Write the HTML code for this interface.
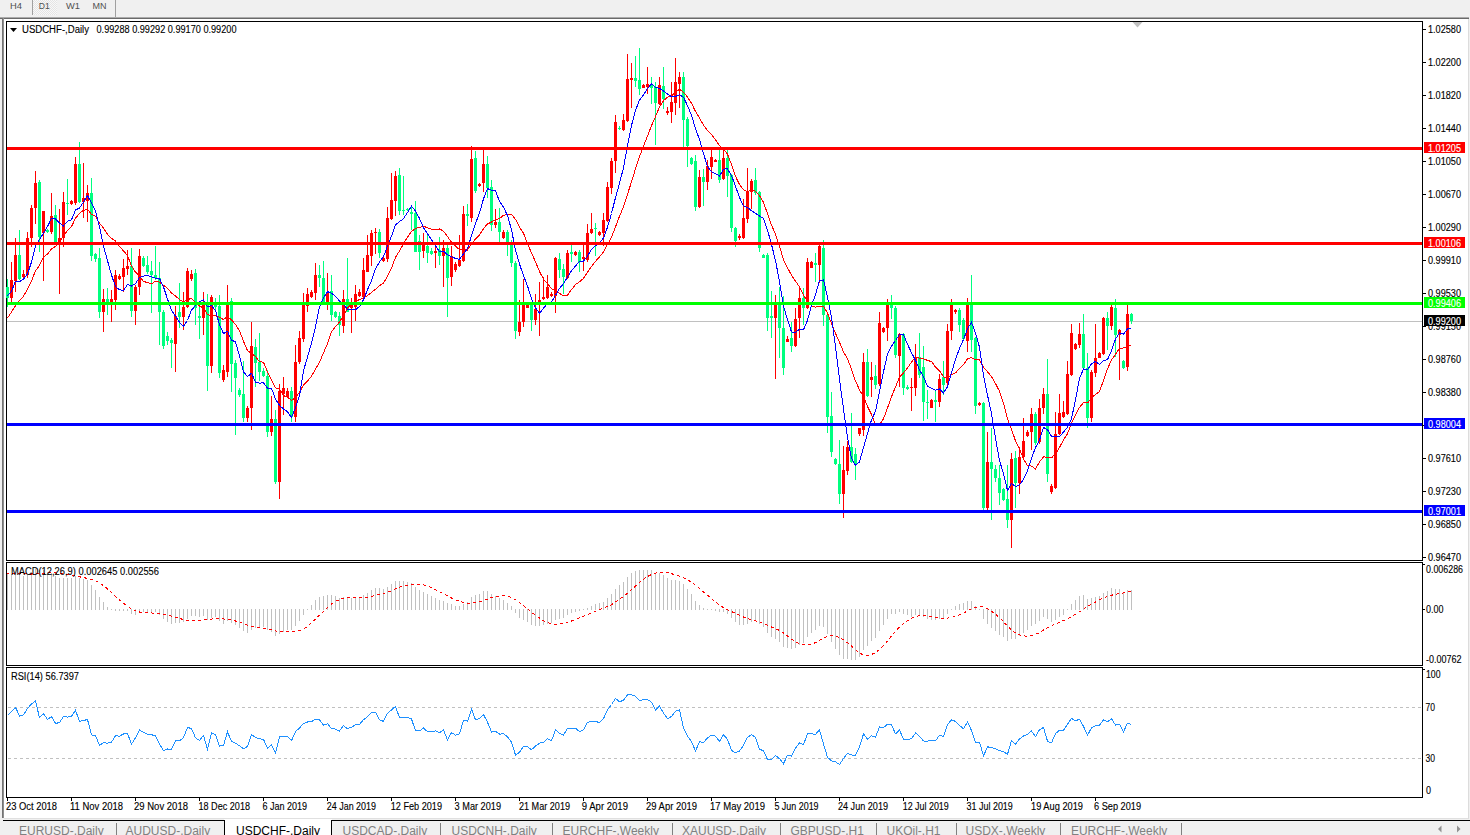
<!DOCTYPE html>
<html><head><meta charset="utf-8"><title>USDCHF-,Daily</title>
<style>html,body{margin:0;padding:0;background:#f0f0f0;overflow:hidden;font-family:"Liberation Sans",sans-serif}svg{display:block}rect{shape-rendering:crispEdges}</style>
</head><body><svg width="1470" height="835" viewBox="0 0 1470 835" font-family="&quot;Liberation Sans&quot;, sans-serif"><rect x="0" y="0" width="1470" height="835" fill="#f0f0f0"/><rect x="4" y="19" width="1464" height="800" fill="#ffffff"/><rect x="0" y="17" width="1469" height="1" fill="#ababab"/><rect x="0" y="18" width="1469" height="1" fill="#6a6a6a"/><rect x="2" y="18" width="1" height="800" fill="#737373"/><rect x="3" y="18" width="1" height="800" fill="#8f8f8f"/><rect x="1468" y="19" width="1" height="800" fill="#dcdcdc"/><rect x="32" y="0" width="1" height="15" fill="#a0a0a0"/><rect x="115" y="0" width="1" height="17" fill="#a0a0a0"/><defs><pattern id="chk" x="0" y="0" width="2" height="2" patternUnits="userSpaceOnUse"><rect x="0" y="0" width="2" height="2" fill="#f8f8f8"/><rect x="0" y="0" width="1" height="1" fill="#e4e4e4"/><rect x="1" y="1" width="1" height="1" fill="#e4e4e4"/></pattern></defs><rect x="33" y="0" width="24" height="15" fill="url(#chk)"/><rect x="6" y="21" width="1417" height="1" fill="#000"/><rect x="6" y="560" width="1417" height="1" fill="#000"/><rect x="6" y="21" width="1" height="540" fill="#000"/><rect x="1422" y="21" width="1" height="540" fill="#000"/><rect x="6" y="562" width="1417" height="1" fill="#000"/><rect x="6" y="665" width="1417" height="1" fill="#000"/><rect x="6" y="562" width="1" height="104" fill="#000"/><rect x="1422" y="562" width="1" height="104" fill="#000"/><rect x="6" y="667" width="1417" height="1" fill="#000"/><rect x="6" y="797" width="1417" height="1" fill="#000"/><rect x="6" y="667" width="1" height="131" fill="#000"/><rect x="1422" y="667" width="1" height="131" fill="#000"/><rect x="7" y="321" width="1415" height="1" fill="#c0c0c0"/><rect x="7" y="279" width="1" height="28" fill="#00ff7f"/><rect x="6" y="287" width="3" height="11" fill="#00ff7f"/><rect x="11" y="262" width="1" height="40" fill="#ff0000"/><rect x="10" y="280" width="3" height="18" fill="#ff0000"/><rect x="15" y="238" width="1" height="54" fill="#ff0000"/><rect x="14" y="255" width="3" height="26" fill="#ff0000"/><rect x="19" y="230" width="1" height="50" fill="#00ff7f"/><rect x="18" y="255" width="3" height="24" fill="#00ff7f"/><rect x="23" y="270" width="1" height="8" fill="#ff0000"/><rect x="22" y="274" width="3" height="3" fill="#ff0000"/><rect x="27" y="232" width="1" height="46" fill="#ff0000"/><rect x="26" y="238" width="3" height="37" fill="#ff0000"/><rect x="31" y="205" width="1" height="42" fill="#ff0000"/><rect x="30" y="208" width="3" height="30" fill="#ff0000"/><rect x="35" y="171" width="1" height="53" fill="#ff0000"/><rect x="34" y="183" width="3" height="25" fill="#ff0000"/><rect x="39" y="180" width="1" height="72" fill="#00ff7f"/><rect x="38" y="182" width="3" height="55" fill="#00ff7f"/><rect x="43" y="211" width="1" height="70" fill="#ff0000"/><rect x="42" y="211" width="3" height="22" fill="#ff0000"/><rect x="47" y="229" width="1" height="4" fill="#00ff7f"/><rect x="46" y="230" width="3" height="2" fill="#00ff7f"/><rect x="51" y="193" width="1" height="41" fill="#ff0000"/><rect x="50" y="216" width="3" height="16" fill="#ff0000"/><rect x="55" y="205" width="1" height="37" fill="#00ff7f"/><rect x="54" y="215" width="3" height="27" fill="#00ff7f"/><rect x="59" y="209" width="1" height="85" fill="#ff0000"/><rect x="58" y="238" width="3" height="4" fill="#ff0000"/><rect x="63" y="192" width="1" height="55" fill="#ff0000"/><rect x="62" y="202" width="3" height="36" fill="#ff0000"/><rect x="67" y="179" width="1" height="36" fill="#00ff7f"/><rect x="66" y="203" width="3" height="1" fill="#00ff7f"/><rect x="71" y="200" width="1" height="5" fill="#ff0000"/><rect x="70" y="201" width="3" height="3" fill="#ff0000"/><rect x="75" y="157" width="1" height="48" fill="#ff0000"/><rect x="74" y="164" width="3" height="39" fill="#ff0000"/><rect x="79" y="142" width="1" height="61" fill="#00ff7f"/><rect x="78" y="164" width="3" height="38" fill="#00ff7f"/><rect x="83" y="163" width="1" height="55" fill="#ff0000"/><rect x="82" y="198" width="3" height="4" fill="#ff0000"/><rect x="87" y="185" width="1" height="37" fill="#ff0000"/><rect x="86" y="193" width="3" height="8" fill="#ff0000"/><rect x="91" y="178" width="1" height="83" fill="#00ff7f"/><rect x="90" y="193" width="3" height="63" fill="#00ff7f"/><rect x="95" y="253" width="1" height="9" fill="#00ff7f"/><rect x="94" y="254" width="3" height="5" fill="#00ff7f"/><rect x="99" y="248" width="1" height="70" fill="#00ff7f"/><rect x="98" y="258" width="3" height="54" fill="#00ff7f"/><rect x="103" y="289" width="1" height="43" fill="#ff0000"/><rect x="102" y="299" width="3" height="13" fill="#ff0000"/><rect x="107" y="288" width="1" height="27" fill="#00ff7f"/><rect x="106" y="299" width="3" height="5" fill="#00ff7f"/><rect x="111" y="290" width="1" height="32" fill="#ff0000"/><rect x="110" y="299" width="3" height="3" fill="#ff0000"/><rect x="115" y="270" width="1" height="40" fill="#ff0000"/><rect x="114" y="275" width="3" height="25" fill="#ff0000"/><rect x="119" y="274" width="1" height="6" fill="#ff0000"/><rect x="118" y="276" width="3" height="3" fill="#ff0000"/><rect x="123" y="259" width="1" height="33" fill="#ff0000"/><rect x="122" y="268" width="3" height="9" fill="#ff0000"/><rect x="127" y="250" width="1" height="25" fill="#ff0000"/><rect x="126" y="266" width="3" height="3" fill="#ff0000"/><rect x="131" y="248" width="1" height="69" fill="#00ff7f"/><rect x="130" y="266" width="3" height="45" fill="#00ff7f"/><rect x="135" y="285" width="1" height="40" fill="#ff0000"/><rect x="134" y="287" width="3" height="24" fill="#ff0000"/><rect x="139" y="249" width="1" height="46" fill="#ff0000"/><rect x="138" y="256" width="3" height="31" fill="#ff0000"/><rect x="143" y="256" width="1" height="11" fill="#00ff7f"/><rect x="142" y="258" width="3" height="8" fill="#00ff7f"/><rect x="147" y="256" width="1" height="18" fill="#00ff7f"/><rect x="146" y="265" width="3" height="7" fill="#00ff7f"/><rect x="151" y="261" width="1" height="52" fill="#00ff7f"/><rect x="150" y="271" width="3" height="4" fill="#00ff7f"/><rect x="155" y="246" width="1" height="34" fill="#00ff7f"/><rect x="154" y="275" width="3" height="3" fill="#00ff7f"/><rect x="159" y="262" width="1" height="83" fill="#00ff7f"/><rect x="158" y="278" width="3" height="34" fill="#00ff7f"/><rect x="163" y="310" width="1" height="39" fill="#00ff7f"/><rect x="162" y="312" width="3" height="34" fill="#00ff7f"/><rect x="167" y="332" width="1" height="13" fill="#00ff7f"/><rect x="166" y="336" width="3" height="5" fill="#00ff7f"/><rect x="171" y="338" width="1" height="30" fill="#00ff7f"/><rect x="170" y="340" width="3" height="3" fill="#00ff7f"/><rect x="175" y="306" width="1" height="66" fill="#ff0000"/><rect x="174" y="316" width="3" height="28" fill="#ff0000"/><rect x="179" y="283" width="1" height="45" fill="#00ff7f"/><rect x="178" y="312" width="3" height="5" fill="#00ff7f"/><rect x="183" y="292" width="1" height="38" fill="#ff0000"/><rect x="182" y="307" width="3" height="10" fill="#ff0000"/><rect x="187" y="268" width="1" height="40" fill="#ff0000"/><rect x="186" y="271" width="3" height="36" fill="#ff0000"/><rect x="191" y="270" width="1" height="11" fill="#ff0000"/><rect x="190" y="274" width="3" height="5" fill="#ff0000"/><rect x="195" y="269" width="1" height="56" fill="#00ff7f"/><rect x="194" y="273" width="3" height="35" fill="#00ff7f"/><rect x="199" y="301" width="1" height="38" fill="#00ff7f"/><rect x="198" y="316" width="3" height="2" fill="#00ff7f"/><rect x="203" y="292" width="1" height="43" fill="#ff0000"/><rect x="202" y="302" width="3" height="16" fill="#ff0000"/><rect x="207" y="294" width="1" height="97" fill="#00ff7f"/><rect x="206" y="303" width="3" height="63" fill="#00ff7f"/><rect x="211" y="295" width="1" height="78" fill="#ff0000"/><rect x="210" y="297" width="3" height="69" fill="#ff0000"/><rect x="215" y="298" width="1" height="12" fill="#00ff7f"/><rect x="214" y="302" width="3" height="5" fill="#00ff7f"/><rect x="219" y="295" width="1" height="83" fill="#00ff7f"/><rect x="218" y="306" width="3" height="67" fill="#00ff7f"/><rect x="223" y="365" width="1" height="17" fill="#ff0000"/><rect x="222" y="370" width="3" height="10" fill="#ff0000"/><rect x="227" y="285" width="1" height="92" fill="#ff0000"/><rect x="226" y="302" width="3" height="70" fill="#ff0000"/><rect x="231" y="298" width="1" height="94" fill="#00ff7f"/><rect x="230" y="301" width="3" height="63" fill="#00ff7f"/><rect x="235" y="360" width="1" height="75" fill="#00ff7f"/><rect x="234" y="363" width="3" height="15" fill="#00ff7f"/><rect x="239" y="388" width="1" height="9" fill="#00ff7f"/><rect x="238" y="390" width="3" height="5" fill="#00ff7f"/><rect x="243" y="361" width="1" height="61" fill="#00ff7f"/><rect x="242" y="394" width="3" height="24" fill="#00ff7f"/><rect x="247" y="406" width="1" height="16" fill="#ff0000"/><rect x="246" y="408" width="3" height="10" fill="#ff0000"/><rect x="251" y="322" width="1" height="108" fill="#ff0000"/><rect x="250" y="346" width="3" height="62" fill="#ff0000"/><rect x="255" y="339" width="1" height="48" fill="#00ff7f"/><rect x="254" y="347" width="3" height="16" fill="#00ff7f"/><rect x="259" y="333" width="1" height="48" fill="#00ff7f"/><rect x="258" y="362" width="3" height="10" fill="#00ff7f"/><rect x="263" y="368" width="1" height="9" fill="#00ff7f"/><rect x="262" y="371" width="3" height="5" fill="#00ff7f"/><rect x="267" y="370" width="1" height="67" fill="#00ff7f"/><rect x="266" y="376" width="3" height="56" fill="#00ff7f"/><rect x="271" y="396" width="1" height="40" fill="#ff0000"/><rect x="270" y="419" width="3" height="13" fill="#ff0000"/><rect x="275" y="410" width="1" height="74" fill="#00ff7f"/><rect x="274" y="419" width="3" height="63" fill="#00ff7f"/><rect x="279" y="384" width="1" height="115" fill="#ff0000"/><rect x="278" y="391" width="3" height="91" fill="#ff0000"/><rect x="283" y="377" width="1" height="38" fill="#ff0000"/><rect x="282" y="388" width="3" height="6" fill="#ff0000"/><rect x="287" y="388" width="1" height="10" fill="#ff0000"/><rect x="286" y="391" width="3" height="6" fill="#ff0000"/><rect x="291" y="387" width="1" height="35" fill="#00ff7f"/><rect x="290" y="391" width="3" height="26" fill="#00ff7f"/><rect x="295" y="345" width="1" height="77" fill="#ff0000"/><rect x="294" y="362" width="3" height="55" fill="#ff0000"/><rect x="299" y="331" width="1" height="33" fill="#ff0000"/><rect x="298" y="338" width="3" height="24" fill="#ff0000"/><rect x="303" y="293" width="1" height="49" fill="#ff0000"/><rect x="302" y="305" width="3" height="34" fill="#ff0000"/><rect x="307" y="288" width="1" height="24" fill="#ff0000"/><rect x="306" y="294" width="3" height="12" fill="#ff0000"/><rect x="311" y="290" width="1" height="8" fill="#ff0000"/><rect x="310" y="292" width="3" height="5" fill="#ff0000"/><rect x="315" y="263" width="1" height="37" fill="#ff0000"/><rect x="314" y="275" width="3" height="18" fill="#ff0000"/><rect x="319" y="265" width="1" height="22" fill="#00ff7f"/><rect x="318" y="275" width="3" height="3" fill="#00ff7f"/><rect x="323" y="261" width="1" height="44" fill="#00ff7f"/><rect x="322" y="278" width="3" height="24" fill="#00ff7f"/><rect x="327" y="273" width="1" height="37" fill="#ff0000"/><rect x="326" y="292" width="3" height="11" fill="#ff0000"/><rect x="331" y="275" width="1" height="46" fill="#00ff7f"/><rect x="330" y="291" width="3" height="24" fill="#00ff7f"/><rect x="335" y="311" width="1" height="7" fill="#00ff7f"/><rect x="334" y="312" width="3" height="5" fill="#00ff7f"/><rect x="339" y="312" width="1" height="24" fill="#00ff7f"/><rect x="338" y="316" width="3" height="9" fill="#00ff7f"/><rect x="343" y="290" width="1" height="43" fill="#ff0000"/><rect x="342" y="299" width="3" height="27" fill="#ff0000"/><rect x="347" y="258" width="1" height="54" fill="#00ff7f"/><rect x="346" y="299" width="3" height="13" fill="#00ff7f"/><rect x="351" y="298" width="1" height="35" fill="#ff0000"/><rect x="350" y="304" width="3" height="4" fill="#ff0000"/><rect x="355" y="285" width="1" height="36" fill="#ff0000"/><rect x="354" y="294" width="3" height="13" fill="#ff0000"/><rect x="359" y="289" width="1" height="8" fill="#ff0000"/><rect x="358" y="292" width="3" height="4" fill="#ff0000"/><rect x="363" y="258" width="1" height="40" fill="#ff0000"/><rect x="362" y="270" width="3" height="27" fill="#ff0000"/><rect x="367" y="235" width="1" height="37" fill="#ff0000"/><rect x="366" y="255" width="3" height="17" fill="#ff0000"/><rect x="371" y="230" width="1" height="36" fill="#ff0000"/><rect x="370" y="233" width="3" height="23" fill="#ff0000"/><rect x="375" y="228" width="1" height="26" fill="#ff0000"/><rect x="374" y="232" width="3" height="1" fill="#ff0000"/><rect x="379" y="229" width="1" height="29" fill="#00ff7f"/><rect x="378" y="232" width="3" height="21" fill="#00ff7f"/><rect x="383" y="256" width="1" height="6" fill="#ff0000"/><rect x="382" y="258" width="3" height="3" fill="#ff0000"/><rect x="387" y="207" width="1" height="55" fill="#ff0000"/><rect x="386" y="218" width="3" height="41" fill="#ff0000"/><rect x="391" y="173" width="1" height="47" fill="#ff0000"/><rect x="390" y="200" width="3" height="19" fill="#ff0000"/><rect x="395" y="171" width="1" height="45" fill="#ff0000"/><rect x="394" y="176" width="3" height="25" fill="#ff0000"/><rect x="399" y="168" width="1" height="47" fill="#00ff7f"/><rect x="398" y="175" width="3" height="36" fill="#00ff7f"/><rect x="403" y="176" width="1" height="39" fill="#00ff7f"/><rect x="402" y="210" width="3" height="1" fill="#00ff7f"/><rect x="407" y="208" width="1" height="3" fill="#00ff7f"/><rect x="406" y="209" width="3" height="1" fill="#00ff7f"/><rect x="411" y="207" width="1" height="23" fill="#00ff7f"/><rect x="410" y="212" width="3" height="2" fill="#00ff7f"/><rect x="415" y="201" width="1" height="51" fill="#00ff7f"/><rect x="414" y="213" width="3" height="39" fill="#00ff7f"/><rect x="419" y="235" width="1" height="35" fill="#00ff7f"/><rect x="418" y="241" width="3" height="11" fill="#00ff7f"/><rect x="423" y="233" width="1" height="25" fill="#ff0000"/><rect x="422" y="242" width="3" height="9" fill="#ff0000"/><rect x="427" y="233" width="1" height="30" fill="#00ff7f"/><rect x="426" y="246" width="3" height="7" fill="#00ff7f"/><rect x="431" y="248" width="1" height="7" fill="#00ff7f"/><rect x="430" y="251" width="3" height="3" fill="#00ff7f"/><rect x="435" y="242" width="1" height="26" fill="#ff0000"/><rect x="434" y="251" width="3" height="2" fill="#ff0000"/><rect x="439" y="237" width="1" height="28" fill="#00ff7f"/><rect x="438" y="250" width="3" height="6" fill="#00ff7f"/><rect x="443" y="240" width="1" height="47" fill="#ff0000"/><rect x="442" y="248" width="3" height="8" fill="#ff0000"/><rect x="447" y="245" width="1" height="72" fill="#00ff7f"/><rect x="446" y="248" width="3" height="30" fill="#00ff7f"/><rect x="451" y="246" width="1" height="40" fill="#ff0000"/><rect x="450" y="256" width="3" height="21" fill="#ff0000"/><rect x="455" y="262" width="1" height="10" fill="#ff0000"/><rect x="454" y="264" width="3" height="6" fill="#ff0000"/><rect x="459" y="235" width="1" height="32" fill="#ff0000"/><rect x="458" y="260" width="3" height="6" fill="#ff0000"/><rect x="463" y="206" width="1" height="56" fill="#ff0000"/><rect x="462" y="214" width="3" height="47" fill="#ff0000"/><rect x="467" y="204" width="1" height="22" fill="#00ff7f"/><rect x="466" y="214" width="3" height="2" fill="#00ff7f"/><rect x="471" y="146" width="1" height="76" fill="#ff0000"/><rect x="470" y="159" width="3" height="59" fill="#ff0000"/><rect x="475" y="151" width="1" height="42" fill="#00ff7f"/><rect x="474" y="158" width="3" height="33" fill="#00ff7f"/><rect x="479" y="183" width="1" height="4" fill="#ff0000"/><rect x="478" y="184" width="3" height="2" fill="#ff0000"/><rect x="483" y="149" width="1" height="43" fill="#ff0000"/><rect x="482" y="164" width="3" height="19" fill="#ff0000"/><rect x="487" y="156" width="1" height="42" fill="#00ff7f"/><rect x="486" y="164" width="3" height="24" fill="#00ff7f"/><rect x="491" y="180" width="1" height="51" fill="#00ff7f"/><rect x="490" y="187" width="3" height="38" fill="#00ff7f"/><rect x="495" y="209" width="1" height="19" fill="#ff0000"/><rect x="494" y="222" width="3" height="3" fill="#ff0000"/><rect x="499" y="208" width="1" height="34" fill="#00ff7f"/><rect x="498" y="222" width="3" height="10" fill="#00ff7f"/><rect x="503" y="230" width="1" height="9" fill="#ff0000"/><rect x="502" y="232" width="3" height="6" fill="#ff0000"/><rect x="507" y="230" width="1" height="26" fill="#00ff7f"/><rect x="506" y="232" width="3" height="10" fill="#00ff7f"/><rect x="511" y="240" width="1" height="27" fill="#00ff7f"/><rect x="510" y="242" width="3" height="21" fill="#00ff7f"/><rect x="515" y="261" width="1" height="78" fill="#00ff7f"/><rect x="514" y="263" width="3" height="68" fill="#00ff7f"/><rect x="519" y="300" width="1" height="36" fill="#ff0000"/><rect x="518" y="322" width="3" height="10" fill="#ff0000"/><rect x="523" y="279" width="1" height="48" fill="#ff0000"/><rect x="522" y="302" width="3" height="20" fill="#ff0000"/><rect x="527" y="303" width="1" height="5" fill="#ff0000"/><rect x="526" y="305" width="3" height="3" fill="#ff0000"/><rect x="531" y="302" width="1" height="29" fill="#00ff7f"/><rect x="530" y="305" width="3" height="15" fill="#00ff7f"/><rect x="535" y="294" width="1" height="31" fill="#ff0000"/><rect x="534" y="309" width="3" height="11" fill="#ff0000"/><rect x="539" y="282" width="1" height="54" fill="#ff0000"/><rect x="538" y="300" width="3" height="5" fill="#ff0000"/><rect x="543" y="277" width="1" height="23" fill="#ff0000"/><rect x="542" y="297" width="3" height="2" fill="#ff0000"/><rect x="547" y="275" width="1" height="24" fill="#ff0000"/><rect x="546" y="287" width="3" height="11" fill="#ff0000"/><rect x="551" y="292" width="1" height="5" fill="#ff0000"/><rect x="550" y="294" width="3" height="2" fill="#ff0000"/><rect x="555" y="257" width="1" height="56" fill="#ff0000"/><rect x="554" y="258" width="3" height="38" fill="#ff0000"/><rect x="559" y="253" width="1" height="25" fill="#00ff7f"/><rect x="558" y="259" width="3" height="11" fill="#00ff7f"/><rect x="563" y="264" width="1" height="30" fill="#00ff7f"/><rect x="562" y="269" width="3" height="8" fill="#00ff7f"/><rect x="567" y="250" width="1" height="29" fill="#ff0000"/><rect x="566" y="253" width="3" height="25" fill="#ff0000"/><rect x="571" y="245" width="1" height="17" fill="#00ff7f"/><rect x="570" y="252" width="3" height="2" fill="#00ff7f"/><rect x="575" y="251" width="1" height="5" fill="#ff0000"/><rect x="574" y="252" width="3" height="3" fill="#ff0000"/><rect x="579" y="250" width="1" height="22" fill="#00ff7f"/><rect x="578" y="252" width="3" height="10" fill="#00ff7f"/><rect x="583" y="245" width="1" height="26" fill="#ff0000"/><rect x="582" y="257" width="3" height="2" fill="#ff0000"/><rect x="587" y="224" width="1" height="38" fill="#ff0000"/><rect x="586" y="233" width="3" height="27" fill="#ff0000"/><rect x="591" y="213" width="1" height="21" fill="#ff0000"/><rect x="590" y="229" width="3" height="4" fill="#ff0000"/><rect x="595" y="223" width="1" height="33" fill="#00ff7f"/><rect x="594" y="228" width="3" height="1" fill="#00ff7f"/><rect x="599" y="231" width="1" height="5" fill="#ff0000"/><rect x="598" y="232" width="3" height="3" fill="#ff0000"/><rect x="603" y="213" width="1" height="33" fill="#ff0000"/><rect x="602" y="220" width="3" height="13" fill="#ff0000"/><rect x="607" y="182" width="1" height="40" fill="#ff0000"/><rect x="606" y="187" width="3" height="34" fill="#ff0000"/><rect x="611" y="158" width="1" height="36" fill="#ff0000"/><rect x="610" y="161" width="3" height="27" fill="#ff0000"/><rect x="615" y="115" width="1" height="58" fill="#ff0000"/><rect x="614" y="122" width="3" height="39" fill="#ff0000"/><rect x="619" y="126" width="1" height="4" fill="#00ff7f"/><rect x="618" y="128" width="3" height="1" fill="#00ff7f"/><rect x="623" y="114" width="1" height="17" fill="#ff0000"/><rect x="622" y="120" width="3" height="10" fill="#ff0000"/><rect x="627" y="54" width="1" height="68" fill="#ff0000"/><rect x="626" y="79" width="3" height="42" fill="#ff0000"/><rect x="631" y="63" width="1" height="45" fill="#ff0000"/><rect x="630" y="78" width="3" height="2" fill="#ff0000"/><rect x="635" y="56" width="1" height="31" fill="#00ff7f"/><rect x="634" y="78" width="3" height="3" fill="#00ff7f"/><rect x="639" y="48" width="1" height="47" fill="#00ff7f"/><rect x="638" y="80" width="3" height="9" fill="#00ff7f"/><rect x="643" y="84" width="1" height="4" fill="#ff0000"/><rect x="642" y="85" width="3" height="3" fill="#ff0000"/><rect x="647" y="67" width="1" height="27" fill="#ff0000"/><rect x="646" y="84" width="3" height="3" fill="#ff0000"/><rect x="651" y="77" width="1" height="27" fill="#00ff7f"/><rect x="650" y="85" width="3" height="3" fill="#00ff7f"/><rect x="655" y="82" width="1" height="63" fill="#00ff7f"/><rect x="654" y="87" width="3" height="16" fill="#00ff7f"/><rect x="659" y="77" width="1" height="28" fill="#ff0000"/><rect x="658" y="85" width="3" height="19" fill="#ff0000"/><rect x="663" y="67" width="1" height="42" fill="#00ff7f"/><rect x="662" y="86" width="3" height="13" fill="#00ff7f"/><rect x="667" y="107" width="1" height="8" fill="#ff0000"/><rect x="666" y="111" width="3" height="2" fill="#ff0000"/><rect x="671" y="82" width="1" height="41" fill="#ff0000"/><rect x="670" y="102" width="3" height="10" fill="#ff0000"/><rect x="675" y="58" width="1" height="57" fill="#ff0000"/><rect x="674" y="82" width="3" height="21" fill="#ff0000"/><rect x="679" y="72" width="1" height="36" fill="#ff0000"/><rect x="678" y="77" width="3" height="7" fill="#ff0000"/><rect x="683" y="72" width="1" height="75" fill="#00ff7f"/><rect x="682" y="77" width="3" height="43" fill="#00ff7f"/><rect x="687" y="117" width="1" height="50" fill="#00ff7f"/><rect x="686" y="119" width="3" height="27" fill="#00ff7f"/><rect x="691" y="157" width="1" height="8" fill="#00ff7f"/><rect x="690" y="158" width="3" height="6" fill="#00ff7f"/><rect x="695" y="155" width="1" height="56" fill="#00ff7f"/><rect x="694" y="161" width="3" height="46" fill="#00ff7f"/><rect x="699" y="170" width="1" height="38" fill="#ff0000"/><rect x="698" y="177" width="3" height="30" fill="#ff0000"/><rect x="703" y="169" width="1" height="37" fill="#00ff7f"/><rect x="702" y="177" width="3" height="5" fill="#00ff7f"/><rect x="707" y="160" width="1" height="30" fill="#ff0000"/><rect x="706" y="166" width="3" height="16" fill="#ff0000"/><rect x="711" y="150" width="1" height="29" fill="#ff0000"/><rect x="710" y="157" width="3" height="10" fill="#ff0000"/><rect x="715" y="159" width="1" height="3" fill="#ff0000"/><rect x="714" y="160" width="3" height="2" fill="#ff0000"/><rect x="719" y="150" width="1" height="33" fill="#00ff7f"/><rect x="718" y="160" width="3" height="20" fill="#00ff7f"/><rect x="723" y="150" width="1" height="30" fill="#ff0000"/><rect x="722" y="158" width="3" height="21" fill="#ff0000"/><rect x="727" y="150" width="1" height="47" fill="#00ff7f"/><rect x="726" y="158" width="3" height="18" fill="#00ff7f"/><rect x="731" y="174" width="1" height="58" fill="#00ff7f"/><rect x="730" y="175" width="3" height="53" fill="#00ff7f"/><rect x="735" y="227" width="1" height="20" fill="#00ff7f"/><rect x="734" y="228" width="3" height="13" fill="#00ff7f"/><rect x="739" y="234" width="1" height="6" fill="#ff0000"/><rect x="738" y="236" width="3" height="2" fill="#ff0000"/><rect x="743" y="199" width="1" height="40" fill="#ff0000"/><rect x="742" y="218" width="3" height="20" fill="#ff0000"/><rect x="747" y="168" width="1" height="55" fill="#ff0000"/><rect x="746" y="192" width="3" height="27" fill="#ff0000"/><rect x="751" y="179" width="1" height="30" fill="#ff0000"/><rect x="750" y="181" width="3" height="11" fill="#ff0000"/><rect x="755" y="168" width="1" height="27" fill="#00ff7f"/><rect x="754" y="180" width="3" height="13" fill="#00ff7f"/><rect x="759" y="191" width="1" height="61" fill="#00ff7f"/><rect x="758" y="192" width="3" height="56" fill="#00ff7f"/><rect x="763" y="254" width="1" height="4" fill="#00ff7f"/><rect x="762" y="255" width="3" height="3" fill="#00ff7f"/><rect x="767" y="253" width="1" height="78" fill="#00ff7f"/><rect x="766" y="255" width="3" height="63" fill="#00ff7f"/><rect x="771" y="291" width="1" height="47" fill="#00ff7f"/><rect x="770" y="316" width="3" height="2" fill="#00ff7f"/><rect x="775" y="295" width="1" height="84" fill="#ff0000"/><rect x="774" y="305" width="3" height="13" fill="#ff0000"/><rect x="779" y="287" width="1" height="71" fill="#00ff7f"/><rect x="778" y="305" width="3" height="23" fill="#00ff7f"/><rect x="783" y="296" width="1" height="79" fill="#00ff7f"/><rect x="782" y="328" width="3" height="40" fill="#00ff7f"/><rect x="787" y="336" width="1" height="6" fill="#ff0000"/><rect x="786" y="339" width="3" height="3" fill="#ff0000"/><rect x="791" y="322" width="1" height="30" fill="#00ff7f"/><rect x="790" y="338" width="3" height="8" fill="#00ff7f"/><rect x="795" y="308" width="1" height="39" fill="#ff0000"/><rect x="794" y="319" width="3" height="27" fill="#ff0000"/><rect x="799" y="288" width="1" height="50" fill="#ff0000"/><rect x="798" y="298" width="3" height="20" fill="#ff0000"/><rect x="803" y="288" width="1" height="37" fill="#00ff7f"/><rect x="802" y="298" width="3" height="10" fill="#00ff7f"/><rect x="807" y="258" width="1" height="51" fill="#ff0000"/><rect x="806" y="262" width="3" height="46" fill="#ff0000"/><rect x="811" y="261" width="1" height="7" fill="#ff0000"/><rect x="810" y="262" width="3" height="6" fill="#ff0000"/><rect x="815" y="253" width="1" height="29" fill="#00ff7f"/><rect x="814" y="263" width="3" height="2" fill="#00ff7f"/><rect x="819" y="245" width="1" height="38" fill="#ff0000"/><rect x="818" y="246" width="3" height="19" fill="#ff0000"/><rect x="823" y="240" width="1" height="86" fill="#00ff7f"/><rect x="822" y="248" width="3" height="67" fill="#00ff7f"/><rect x="827" y="313" width="1" height="120" fill="#00ff7f"/><rect x="826" y="315" width="3" height="102" fill="#00ff7f"/><rect x="831" y="392" width="1" height="65" fill="#00ff7f"/><rect x="830" y="416" width="3" height="36" fill="#00ff7f"/><rect x="835" y="458" width="1" height="7" fill="#00ff7f"/><rect x="834" y="459" width="3" height="5" fill="#00ff7f"/><rect x="839" y="440" width="1" height="64" fill="#00ff7f"/><rect x="838" y="464" width="3" height="30" fill="#00ff7f"/><rect x="843" y="446" width="1" height="72" fill="#ff0000"/><rect x="842" y="470" width="3" height="24" fill="#ff0000"/><rect x="847" y="441" width="1" height="34" fill="#ff0000"/><rect x="846" y="447" width="3" height="24" fill="#ff0000"/><rect x="851" y="413" width="1" height="50" fill="#00ff7f"/><rect x="850" y="447" width="3" height="15" fill="#00ff7f"/><rect x="855" y="448" width="1" height="32" fill="#00ff7f"/><rect x="854" y="454" width="3" height="11" fill="#00ff7f"/><rect x="859" y="428" width="1" height="8" fill="#ff0000"/><rect x="858" y="428" width="3" height="6" fill="#ff0000"/><rect x="863" y="353" width="1" height="83" fill="#ff0000"/><rect x="862" y="362" width="3" height="68" fill="#ff0000"/><rect x="867" y="349" width="1" height="48" fill="#00ff7f"/><rect x="866" y="362" width="3" height="34" fill="#00ff7f"/><rect x="871" y="362" width="1" height="35" fill="#ff0000"/><rect x="870" y="377" width="3" height="3" fill="#ff0000"/><rect x="875" y="365" width="1" height="24" fill="#00ff7f"/><rect x="874" y="376" width="3" height="9" fill="#00ff7f"/><rect x="879" y="312" width="1" height="74" fill="#ff0000"/><rect x="878" y="323" width="3" height="61" fill="#ff0000"/><rect x="883" y="327" width="1" height="6" fill="#ff0000"/><rect x="882" y="328" width="3" height="4" fill="#ff0000"/><rect x="887" y="299" width="1" height="42" fill="#ff0000"/><rect x="886" y="304" width="3" height="24" fill="#ff0000"/><rect x="891" y="295" width="1" height="24" fill="#00ff7f"/><rect x="890" y="304" width="3" height="4" fill="#00ff7f"/><rect x="895" y="306" width="1" height="52" fill="#00ff7f"/><rect x="894" y="308" width="3" height="47" fill="#00ff7f"/><rect x="899" y="333" width="1" height="54" fill="#ff0000"/><rect x="898" y="334" width="3" height="22" fill="#ff0000"/><rect x="903" y="333" width="1" height="62" fill="#00ff7f"/><rect x="902" y="334" width="3" height="54" fill="#00ff7f"/><rect x="907" y="385" width="1" height="5" fill="#00ff7f"/><rect x="906" y="387" width="3" height="2" fill="#00ff7f"/><rect x="911" y="378" width="1" height="33" fill="#ff0000"/><rect x="910" y="387" width="3" height="1" fill="#ff0000"/><rect x="915" y="344" width="1" height="52" fill="#ff0000"/><rect x="914" y="358" width="3" height="30" fill="#ff0000"/><rect x="919" y="333" width="1" height="45" fill="#00ff7f"/><rect x="918" y="357" width="3" height="18" fill="#00ff7f"/><rect x="923" y="346" width="1" height="75" fill="#00ff7f"/><rect x="922" y="367" width="3" height="35" fill="#00ff7f"/><rect x="927" y="390" width="1" height="29" fill="#00ff7f"/><rect x="926" y="402" width="3" height="1" fill="#00ff7f"/><rect x="931" y="399" width="1" height="9" fill="#ff0000"/><rect x="930" y="400" width="3" height="8" fill="#ff0000"/><rect x="935" y="391" width="1" height="31" fill="#00ff7f"/><rect x="934" y="400" width="3" height="2" fill="#00ff7f"/><rect x="939" y="374" width="1" height="33" fill="#ff0000"/><rect x="938" y="379" width="3" height="23" fill="#ff0000"/><rect x="943" y="361" width="1" height="34" fill="#00ff7f"/><rect x="942" y="377" width="3" height="8" fill="#00ff7f"/><rect x="947" y="324" width="1" height="61" fill="#ff0000"/><rect x="946" y="331" width="3" height="52" fill="#ff0000"/><rect x="951" y="299" width="1" height="41" fill="#ff0000"/><rect x="950" y="304" width="3" height="27" fill="#ff0000"/><rect x="955" y="309" width="1" height="5" fill="#ff0000"/><rect x="954" y="310" width="3" height="2" fill="#ff0000"/><rect x="959" y="308" width="1" height="24" fill="#00ff7f"/><rect x="958" y="310" width="3" height="15" fill="#00ff7f"/><rect x="963" y="318" width="1" height="22" fill="#00ff7f"/><rect x="962" y="320" width="3" height="19" fill="#00ff7f"/><rect x="967" y="298" width="1" height="54" fill="#ff0000"/><rect x="966" y="304" width="3" height="37" fill="#ff0000"/><rect x="971" y="275" width="1" height="77" fill="#00ff7f"/><rect x="970" y="304" width="3" height="36" fill="#00ff7f"/><rect x="975" y="337" width="1" height="77" fill="#00ff7f"/><rect x="974" y="338" width="3" height="68" fill="#00ff7f"/><rect x="979" y="402" width="1" height="4" fill="#ff0000"/><rect x="978" y="403" width="3" height="2" fill="#ff0000"/><rect x="983" y="402" width="1" height="108" fill="#00ff7f"/><rect x="982" y="403" width="3" height="105" fill="#00ff7f"/><rect x="987" y="432" width="1" height="78" fill="#ff0000"/><rect x="986" y="462" width="3" height="46" fill="#ff0000"/><rect x="991" y="428" width="1" height="92" fill="#00ff7f"/><rect x="990" y="462" width="3" height="7" fill="#00ff7f"/><rect x="995" y="465" width="1" height="17" fill="#00ff7f"/><rect x="994" y="469" width="3" height="9" fill="#00ff7f"/><rect x="999" y="465" width="1" height="40" fill="#00ff7f"/><rect x="998" y="478" width="3" height="15" fill="#00ff7f"/><rect x="1003" y="488" width="1" height="13" fill="#00ff7f"/><rect x="1002" y="489" width="3" height="11" fill="#00ff7f"/><rect x="1007" y="465" width="1" height="63" fill="#00ff7f"/><rect x="1006" y="499" width="3" height="21" fill="#00ff7f"/><rect x="1011" y="453" width="1" height="95" fill="#ff0000"/><rect x="1010" y="459" width="3" height="61" fill="#ff0000"/><rect x="1015" y="451" width="1" height="57" fill="#00ff7f"/><rect x="1014" y="458" width="3" height="25" fill="#00ff7f"/><rect x="1019" y="447" width="1" height="47" fill="#ff0000"/><rect x="1018" y="457" width="3" height="26" fill="#ff0000"/><rect x="1023" y="418" width="1" height="40" fill="#ff0000"/><rect x="1022" y="441" width="3" height="16" fill="#ff0000"/><rect x="1027" y="430" width="1" height="7" fill="#ff0000"/><rect x="1026" y="432" width="3" height="4" fill="#ff0000"/><rect x="1031" y="408" width="1" height="42" fill="#ff0000"/><rect x="1030" y="414" width="3" height="18" fill="#ff0000"/><rect x="1035" y="412" width="1" height="33" fill="#00ff7f"/><rect x="1034" y="414" width="3" height="29" fill="#00ff7f"/><rect x="1039" y="399" width="1" height="45" fill="#ff0000"/><rect x="1038" y="408" width="3" height="34" fill="#ff0000"/><rect x="1043" y="388" width="1" height="26" fill="#ff0000"/><rect x="1042" y="394" width="3" height="14" fill="#ff0000"/><rect x="1047" y="359" width="1" height="123" fill="#00ff7f"/><rect x="1046" y="394" width="3" height="80" fill="#00ff7f"/><rect x="1051" y="484" width="1" height="10" fill="#ff0000"/><rect x="1050" y="486" width="3" height="6" fill="#ff0000"/><rect x="1055" y="412" width="1" height="77" fill="#ff0000"/><rect x="1054" y="434" width="3" height="54" fill="#ff0000"/><rect x="1059" y="394" width="1" height="41" fill="#ff0000"/><rect x="1058" y="413" width="3" height="21" fill="#ff0000"/><rect x="1063" y="401" width="1" height="17" fill="#ff0000"/><rect x="1062" y="412" width="3" height="5" fill="#ff0000"/><rect x="1067" y="361" width="1" height="54" fill="#ff0000"/><rect x="1066" y="374" width="3" height="40" fill="#ff0000"/><rect x="1071" y="324" width="1" height="52" fill="#ff0000"/><rect x="1070" y="333" width="3" height="42" fill="#ff0000"/><rect x="1075" y="343" width="1" height="7" fill="#ff0000"/><rect x="1074" y="344" width="3" height="5" fill="#ff0000"/><rect x="1079" y="323" width="1" height="25" fill="#ff0000"/><rect x="1078" y="334" width="3" height="11" fill="#ff0000"/><rect x="1083" y="314" width="1" height="55" fill="#00ff7f"/><rect x="1082" y="334" width="3" height="34" fill="#00ff7f"/><rect x="1087" y="353" width="1" height="75" fill="#00ff7f"/><rect x="1086" y="368" width="3" height="50" fill="#00ff7f"/><rect x="1091" y="370" width="1" height="52" fill="#ff0000"/><rect x="1090" y="372" width="3" height="46" fill="#ff0000"/><rect x="1095" y="324" width="1" height="53" fill="#ff0000"/><rect x="1094" y="358" width="3" height="15" fill="#ff0000"/><rect x="1099" y="352" width="1" height="6" fill="#ff0000"/><rect x="1098" y="353" width="3" height="5" fill="#ff0000"/><rect x="1103" y="317" width="1" height="38" fill="#ff0000"/><rect x="1102" y="318" width="3" height="36" fill="#ff0000"/><rect x="1107" y="312" width="1" height="38" fill="#00ff7f"/><rect x="1106" y="318" width="3" height="8" fill="#00ff7f"/><rect x="1111" y="304" width="1" height="26" fill="#ff0000"/><rect x="1110" y="307" width="3" height="19" fill="#ff0000"/><rect x="1115" y="299" width="1" height="58" fill="#00ff7f"/><rect x="1114" y="308" width="3" height="27" fill="#00ff7f"/><rect x="1119" y="329" width="1" height="51" fill="#ff0000"/><rect x="1118" y="330" width="3" height="5" fill="#ff0000"/><rect x="1123" y="360" width="1" height="9" fill="#00ff7f"/><rect x="1122" y="361" width="3" height="7" fill="#00ff7f"/><rect x="1127" y="305" width="1" height="66" fill="#ff0000"/><rect x="1126" y="314" width="3" height="53" fill="#ff0000"/><rect x="1131" y="313" width="1" height="11" fill="#00ff7f"/><rect x="1130" y="314" width="3" height="7" fill="#00ff7f"/><polyline points="7.5,318.1 11.5,312.0 15.5,305.7 19.5,300.4 23.5,296.3 27.5,289.0 31.5,281.0 35.5,270.7 39.5,265.4 43.5,257.1 47.5,254.1 51.5,248.8 55.5,246.4 59.5,242.6 63.5,235.8 67.5,230.4 71.5,226.5 75.5,218.3 79.5,213.2 83.5,210.4 87.5,209.3 91.5,214.5 95.5,216.1 99.5,223.3 103.5,228.1 107.5,234.4 111.5,238.4 115.5,241.1 119.5,246.4 123.5,250.9 127.5,255.5 131.5,266.0 135.5,272.1 139.5,276.2 143.5,281.4 147.5,282.6 151.5,283.7 155.5,281.3 159.5,282.2 163.5,285.3 167.5,288.3 171.5,293.1 175.5,296.0 179.5,299.4 183.5,302.3 187.5,299.5 191.5,298.5 195.5,302.3 199.5,306.0 203.5,308.1 207.5,314.6 211.5,315.9 215.5,315.5 219.5,317.4 223.5,319.5 227.5,316.6 231.5,320.0 235.5,324.4 239.5,330.7 243.5,341.2 247.5,350.7 251.5,353.4 255.5,356.6 259.5,361.6 263.5,362.3 267.5,372.0 271.5,380.1 275.5,387.8 279.5,389.3 283.5,395.5 287.5,397.4 291.5,400.2 295.5,397.9 299.5,392.2 303.5,384.9 307.5,381.2 311.5,376.1 315.5,369.2 319.5,362.2 323.5,352.8 327.5,343.8 331.5,331.9 335.5,326.6 339.5,322.1 343.5,315.6 347.5,308.1 351.5,303.9 355.5,300.7 359.5,299.8 363.5,298.1 367.5,295.5 371.5,292.5 375.5,289.2 379.5,285.7 383.5,283.2 387.5,276.3 391.5,268.0 395.5,257.3 399.5,251.0 403.5,243.9 407.5,237.1 411.5,231.4 415.5,228.6 419.5,227.3 423.5,226.3 427.5,227.7 431.5,229.3 435.5,229.1 439.5,229.0 443.5,231.1 447.5,236.6 451.5,242.3 455.5,246.1 459.5,249.6 463.5,249.9 467.5,250.1 471.5,243.5 475.5,239.1 479.5,235.0 483.5,228.6 487.5,223.9 491.5,222.1 495.5,219.7 499.5,218.6 503.5,215.3 507.5,214.4 511.5,214.3 515.5,219.4 519.5,227.1 523.5,233.2 527.5,243.6 531.5,252.9 535.5,261.8 539.5,271.5 543.5,279.2 547.5,283.6 551.5,288.8 555.5,290.7 559.5,293.4 563.5,295.8 567.5,295.1 571.5,289.6 575.5,284.6 579.5,281.8 583.5,278.4 587.5,272.2 591.5,266.5 595.5,261.4 599.5,256.8 603.5,252.1 607.5,244.4 611.5,237.4 615.5,226.8 619.5,216.3 623.5,206.8 627.5,194.3 631.5,181.8 635.5,168.8 639.5,156.8 643.5,146.2 647.5,135.9 651.5,125.8 655.5,116.6 659.5,106.9 663.5,100.7 667.5,97.1 671.5,95.7 675.5,92.4 679.5,89.3 683.5,92.2 687.5,97.1 691.5,103.1 695.5,111.5 699.5,118.0 703.5,125.1 707.5,130.6 711.5,134.4 715.5,139.8 719.5,145.5 723.5,148.9 727.5,154.2 731.5,164.6 735.5,176.3 739.5,184.6 743.5,189.8 747.5,191.7 751.5,189.9 755.5,191.1 759.5,195.8 763.5,202.3 767.5,213.8 771.5,225.1 775.5,234.1 779.5,246.1 783.5,259.8 787.5,267.7 791.5,275.2 795.5,281.2 799.5,286.8 803.5,295.2 807.5,300.9 811.5,305.9 815.5,307.1 819.5,306.2 823.5,306.1 827.5,313.1 831.5,323.6 835.5,333.4 839.5,342.4 843.5,351.8 847.5,359.0 851.5,369.2 855.5,381.1 859.5,389.7 863.5,396.9 867.5,406.4 871.5,414.4 875.5,424.3 879.5,424.9 883.5,418.6 887.5,408.0 891.5,396.8 895.5,386.9 899.5,377.2 903.5,373.0 907.5,367.8 911.5,362.2 915.5,357.2 919.5,358.1 923.5,358.6 927.5,360.5 931.5,361.5 935.5,367.2 939.5,370.9 943.5,376.7 947.5,378.3 951.5,374.6 955.5,372.9 959.5,368.4 963.5,364.8 967.5,358.9 971.5,357.6 975.5,359.9 979.5,359.9 983.5,367.4 987.5,371.8 991.5,376.6 995.5,383.6 999.5,391.3 1003.5,403.4 1007.5,418.8 1011.5,429.5 1015.5,440.8 1019.5,449.2 1023.5,459.0 1027.5,465.5 1031.5,466.1 1035.5,469.0 1039.5,461.8 1043.5,456.9 1047.5,457.3 1051.5,457.9 1055.5,453.7 1059.5,447.5 1063.5,439.8 1067.5,433.7 1071.5,423.0 1075.5,414.9 1079.5,407.3 1083.5,402.7 1087.5,403.0 1091.5,397.9 1095.5,394.4 1099.5,391.5 1103.5,380.4 1107.5,369.0 1111.5,359.9 1115.5,354.3 1119.5,348.4 1123.5,347.9 1127.5,346.5 1131.5,344.9" fill="none" stroke="#ff0000" stroke-width="1" shape-rendering="crispEdges"/><polyline points="7.5,295.7 11.5,291.3 15.5,281.1 19.5,281.6 23.5,279.2 27.5,273.9 31.5,262.1 35.5,245.7 39.5,239.5 43.5,233.2 47.5,226.5 51.5,218.3 55.5,218.8 59.5,223.1 63.5,225.9 67.5,221.3 71.5,219.8 75.5,210.0 79.5,208.1 83.5,201.9 87.5,195.5 91.5,203.2 95.5,210.9 99.5,226.8 103.5,246.1 107.5,260.6 111.5,275.0 115.5,286.7 119.5,289.6 123.5,290.8 127.5,284.3 131.5,286.0 135.5,283.6 139.5,277.4 143.5,276.1 147.5,275.6 151.5,276.6 155.5,278.4 159.5,278.5 163.5,286.9 167.5,299.1 171.5,310.1 175.5,316.3 179.5,322.2 183.5,326.3 187.5,320.5 191.5,310.1 195.5,305.5 199.5,301.9 203.5,299.9 207.5,306.9 211.5,305.5 215.5,310.6 219.5,324.7 223.5,333.6 227.5,331.2 231.5,340.2 235.5,341.8 239.5,355.9 243.5,371.7 247.5,376.7 251.5,373.2 255.5,382.0 259.5,383.1 263.5,382.8 267.5,388.2 271.5,388.4 275.5,399.0 279.5,405.4 283.5,409.0 287.5,411.7 291.5,417.6 295.5,407.6 299.5,396.0 303.5,370.8 307.5,356.9 311.5,343.2 315.5,326.6 319.5,306.8 323.5,298.1 327.5,291.6 331.5,293.1 335.5,296.3 339.5,301.1 343.5,304.5 347.5,309.3 351.5,309.6 355.5,309.8 359.5,306.5 363.5,299.8 367.5,289.8 371.5,280.5 375.5,269.0 379.5,261.8 383.5,256.6 387.5,246.1 391.5,236.1 395.5,224.8 399.5,221.6 403.5,218.7 407.5,212.5 411.5,206.2 415.5,211.0 419.5,218.4 423.5,227.8 427.5,233.8 431.5,239.9 435.5,245.8 439.5,251.7 443.5,251.1 447.5,254.8 451.5,256.8 455.5,258.4 459.5,259.3 463.5,254.0 467.5,248.4 471.5,235.8 475.5,223.4 479.5,213.1 483.5,198.8 487.5,188.6 491.5,190.2 495.5,190.9 499.5,201.4 503.5,207.2 507.5,215.6 511.5,229.8 515.5,250.1 519.5,264.1 523.5,275.5 527.5,285.9 531.5,298.5 535.5,308.0 539.5,313.2 543.5,308.3 547.5,303.2 551.5,302.1 555.5,295.5 559.5,288.3 563.5,283.7 567.5,277.0 571.5,270.9 575.5,266.0 579.5,261.5 583.5,261.3 587.5,256.1 591.5,249.3 595.5,245.8 599.5,242.7 603.5,238.1 607.5,227.2 611.5,213.5 615.5,197.6 619.5,183.3 623.5,167.7 627.5,145.8 631.5,125.5 635.5,110.3 639.5,100.1 643.5,94.8 647.5,88.4 651.5,83.9 655.5,87.3 659.5,88.4 663.5,91.0 667.5,94.1 671.5,96.6 675.5,96.4 679.5,94.8 683.5,97.1 687.5,105.8 691.5,115.1 695.5,128.8 699.5,139.4 703.5,153.7 707.5,166.4 711.5,171.7 715.5,173.7 719.5,176.0 723.5,169.1 727.5,168.9 731.5,175.5 735.5,186.2 739.5,197.5 743.5,205.8 747.5,207.5 751.5,210.7 755.5,213.2 759.5,216.1 763.5,218.5 767.5,230.1 771.5,244.4 775.5,260.6 779.5,281.6 783.5,306.4 787.5,319.4 791.5,332.0 795.5,332.2 799.5,329.3 803.5,329.7 807.5,320.3 811.5,305.3 815.5,294.8 819.5,280.5 823.5,279.9 827.5,296.9 831.5,317.5 835.5,346.4 839.5,379.5 843.5,408.8 847.5,437.5 851.5,458.4 855.5,465.3 859.5,461.9 863.5,447.4 867.5,433.4 871.5,420.0 875.5,411.2 879.5,391.4 883.5,371.8 887.5,354.0 891.5,346.3 895.5,340.5 899.5,334.4 903.5,334.8 907.5,344.2 911.5,352.7 915.5,360.3 919.5,369.9 923.5,376.6 927.5,386.5 931.5,388.2 935.5,390.1 939.5,389.0 943.5,393.0 947.5,386.7 951.5,372.6 955.5,359.3 959.5,348.5 963.5,339.5 967.5,328.8 971.5,322.3 975.5,333.0 979.5,347.2 983.5,375.4 987.5,395.1 991.5,413.7 995.5,438.4 999.5,460.3 1003.5,473.8 1007.5,490.5 1011.5,483.5 1015.5,486.5 1019.5,484.8 1023.5,479.5 1027.5,470.7 1031.5,458.4 1035.5,447.5 1039.5,440.1 1043.5,427.4 1047.5,429.8 1051.5,436.3 1055.5,436.6 1059.5,436.5 1063.5,432.1 1067.5,427.3 1071.5,418.6 1075.5,400.1 1079.5,378.4 1083.5,368.9 1087.5,369.6 1091.5,363.8 1095.5,361.5 1099.5,364.4 1103.5,360.7 1107.5,359.6 1111.5,350.9 1115.5,339.0 1119.5,333.0 1123.5,334.3 1127.5,328.7 1131.5,329.1" fill="none" stroke="#0000ff" stroke-width="1" shape-rendering="crispEdges"/><rect x="7" y="147" width="1415" height="3" fill="#ff0000"/><rect x="7" y="242" width="1415" height="3" fill="#ff0000"/><rect x="7" y="302" width="1415" height="3" fill="#00ff00"/><rect x="7" y="423" width="1415" height="3" fill="#0000ff"/><rect x="7" y="510" width="1415" height="3" fill="#0000ff"/><polygon points="1132.5,22 1142.5,22 1137.5,27.5" fill="#c0c0c0"/><polygon points="10,28 17,28 13.5,32" fill="#000"/><text x="22" y="33" font-size="10" fill="#000" text-anchor="start" textLength="67" lengthAdjust="spacingAndGlyphs" stroke="#000" stroke-width="0.12">USDCHF-,Daily</text><text x="96.5" y="33" font-size="10" fill="#000" text-anchor="start" textLength="140" lengthAdjust="spacingAndGlyphs" stroke="#000" stroke-width="0.12">0.99288 0.99292 0.99170 0.99200</text><rect x="1423" y="29" width="3" height="1" fill="#000"/><text x="1428" y="33" font-size="10" fill="#000" text-anchor="start" textLength="33" lengthAdjust="spacingAndGlyphs" stroke="#000" stroke-width="0.12">1.02580</text><rect x="1423" y="62" width="3" height="1" fill="#000"/><text x="1428" y="66" font-size="10" fill="#000" text-anchor="start" textLength="33" lengthAdjust="spacingAndGlyphs" stroke="#000" stroke-width="0.12">1.02200</text><rect x="1423" y="95" width="3" height="1" fill="#000"/><text x="1428" y="99" font-size="10" fill="#000" text-anchor="start" textLength="33" lengthAdjust="spacingAndGlyphs" stroke="#000" stroke-width="0.12">1.01820</text><rect x="1423" y="128" width="3" height="1" fill="#000"/><text x="1428" y="132" font-size="10" fill="#000" text-anchor="start" textLength="33" lengthAdjust="spacingAndGlyphs" stroke="#000" stroke-width="0.12">1.01440</text><rect x="1423" y="161" width="3" height="1" fill="#000"/><text x="1428" y="165" font-size="10" fill="#000" text-anchor="start" textLength="33" lengthAdjust="spacingAndGlyphs" stroke="#000" stroke-width="0.12">1.01050</text><rect x="1423" y="194" width="3" height="1" fill="#000"/><text x="1428" y="198" font-size="10" fill="#000" text-anchor="start" textLength="33" lengthAdjust="spacingAndGlyphs" stroke="#000" stroke-width="0.12">1.00670</text><rect x="1423" y="227" width="3" height="1" fill="#000"/><text x="1428" y="231" font-size="10" fill="#000" text-anchor="start" textLength="33" lengthAdjust="spacingAndGlyphs" stroke="#000" stroke-width="0.12">1.00290</text><rect x="1423" y="260" width="3" height="1" fill="#000"/><text x="1428" y="264" font-size="10" fill="#000" text-anchor="start" textLength="33" lengthAdjust="spacingAndGlyphs" stroke="#000" stroke-width="0.12">0.99910</text><rect x="1423" y="293" width="3" height="1" fill="#000"/><text x="1428" y="297" font-size="10" fill="#000" text-anchor="start" textLength="33" lengthAdjust="spacingAndGlyphs" stroke="#000" stroke-width="0.12">0.99530</text><rect x="1423" y="326" width="3" height="1" fill="#000"/><text x="1428" y="330" font-size="10" fill="#000" text-anchor="start" textLength="33" lengthAdjust="spacingAndGlyphs" stroke="#000" stroke-width="0.12">0.99150</text><rect x="1423" y="359" width="3" height="1" fill="#000"/><text x="1428" y="363" font-size="10" fill="#000" text-anchor="start" textLength="33" lengthAdjust="spacingAndGlyphs" stroke="#000" stroke-width="0.12">0.98760</text><rect x="1423" y="392" width="3" height="1" fill="#000"/><text x="1428" y="396" font-size="10" fill="#000" text-anchor="start" textLength="33" lengthAdjust="spacingAndGlyphs" stroke="#000" stroke-width="0.12">0.98380</text><rect x="1423" y="425" width="3" height="1" fill="#000"/><text x="1428" y="429" font-size="10" fill="#000" text-anchor="start" textLength="33" lengthAdjust="spacingAndGlyphs" stroke="#000" stroke-width="0.12">0.98000</text><rect x="1423" y="458" width="3" height="1" fill="#000"/><text x="1428" y="462" font-size="10" fill="#000" text-anchor="start" textLength="33" lengthAdjust="spacingAndGlyphs" stroke="#000" stroke-width="0.12">0.97610</text><rect x="1423" y="491" width="3" height="1" fill="#000"/><text x="1428" y="495" font-size="10" fill="#000" text-anchor="start" textLength="33" lengthAdjust="spacingAndGlyphs" stroke="#000" stroke-width="0.12">0.97230</text><rect x="1423" y="524" width="3" height="1" fill="#000"/><text x="1428" y="528" font-size="10" fill="#000" text-anchor="start" textLength="33" lengthAdjust="spacingAndGlyphs" stroke="#000" stroke-width="0.12">0.96850</text><rect x="1423" y="557" width="3" height="1" fill="#000"/><text x="1428" y="561" font-size="10" fill="#000" text-anchor="start" textLength="33" lengthAdjust="spacingAndGlyphs" stroke="#000" stroke-width="0.12">0.96470</text><rect x="1424" y="142" width="41" height="11" fill="#ff0000"/><text x="1428" y="152" font-size="10" fill="#fff" text-anchor="start" textLength="33" lengthAdjust="spacingAndGlyphs" stroke="#fff" stroke-width="0.12">1.01205</text><rect x="1424" y="237" width="41" height="11" fill="#ff0000"/><text x="1428" y="247" font-size="10" fill="#fff" text-anchor="start" textLength="33" lengthAdjust="spacingAndGlyphs" stroke="#fff" stroke-width="0.12">1.00106</text><rect x="1424" y="297" width="41" height="11" fill="#00ff00"/><text x="1428" y="307" font-size="10" fill="#fff" text-anchor="start" textLength="33" lengthAdjust="spacingAndGlyphs" stroke="#fff" stroke-width="0.12">0.99406</text><rect x="1424" y="315" width="41" height="11" fill="#000000"/><text x="1428" y="325" font-size="10" fill="#fff" text-anchor="start" textLength="33" lengthAdjust="spacingAndGlyphs" stroke="#fff" stroke-width="0.12">0.99200</text><rect x="1424" y="418" width="41" height="11" fill="#0000ff"/><text x="1428" y="428" font-size="10" fill="#fff" text-anchor="start" textLength="33" lengthAdjust="spacingAndGlyphs" stroke="#fff" stroke-width="0.12">0.98004</text><rect x="1424" y="505" width="41" height="11" fill="#0000ff"/><text x="1428" y="515" font-size="10" fill="#fff" text-anchor="start" textLength="33" lengthAdjust="spacingAndGlyphs" stroke="#fff" stroke-width="0.12">0.97001</text><rect x="7" y="574" width="1" height="36" fill="#c0c0c0"/><rect x="11" y="574" width="1" height="36" fill="#c0c0c0"/><rect x="15" y="573" width="1" height="37" fill="#c0c0c0"/><rect x="19" y="575" width="1" height="35" fill="#c0c0c0"/><rect x="23" y="576" width="1" height="34" fill="#c0c0c0"/><rect x="27" y="575" width="1" height="35" fill="#c0c0c0"/><rect x="31" y="572" width="1" height="38" fill="#c0c0c0"/><rect x="35" y="569" width="1" height="41" fill="#c0c0c0"/><rect x="39" y="570" width="1" height="40" fill="#c0c0c0"/><rect x="43" y="570" width="1" height="40" fill="#c0c0c0"/><rect x="47" y="572" width="1" height="38" fill="#c0c0c0"/><rect x="51" y="573" width="1" height="37" fill="#c0c0c0"/><rect x="55" y="576" width="1" height="34" fill="#c0c0c0"/><rect x="59" y="578" width="1" height="32" fill="#c0c0c0"/><rect x="63" y="578" width="1" height="32" fill="#c0c0c0"/><rect x="67" y="578" width="1" height="32" fill="#c0c0c0"/><rect x="71" y="578" width="1" height="32" fill="#c0c0c0"/><rect x="75" y="576" width="1" height="34" fill="#c0c0c0"/><rect x="79" y="578" width="1" height="32" fill="#c0c0c0"/><rect x="83" y="579" width="1" height="31" fill="#c0c0c0"/><rect x="87" y="580" width="1" height="30" fill="#c0c0c0"/><rect x="91" y="585" width="1" height="25" fill="#c0c0c0"/><rect x="95" y="590" width="1" height="20" fill="#c0c0c0"/><rect x="99" y="597" width="1" height="13" fill="#c0c0c0"/><rect x="103" y="602" width="1" height="8" fill="#c0c0c0"/><rect x="107" y="607" width="1" height="3" fill="#c0c0c0"/><rect x="111" y="609" width="1" height="1" fill="#c0c0c0"/><rect x="115" y="609" width="1" height="2" fill="#c0c0c0"/><rect x="119" y="609" width="1" height="2" fill="#c0c0c0"/><rect x="123" y="609" width="1" height="2" fill="#c0c0c0"/><rect x="127" y="609" width="1" height="2" fill="#c0c0c0"/><rect x="131" y="609" width="1" height="5" fill="#c0c0c0"/><rect x="135" y="609" width="1" height="6" fill="#c0c0c0"/><rect x="139" y="609" width="1" height="4" fill="#c0c0c0"/><rect x="143" y="609" width="1" height="3" fill="#c0c0c0"/><rect x="147" y="609" width="1" height="3" fill="#c0c0c0"/><rect x="151" y="609" width="1" height="3" fill="#c0c0c0"/><rect x="155" y="609" width="1" height="3" fill="#c0c0c0"/><rect x="159" y="609" width="1" height="6" fill="#c0c0c0"/><rect x="163" y="609" width="1" height="10" fill="#c0c0c0"/><rect x="167" y="609" width="1" height="13" fill="#c0c0c0"/><rect x="171" y="609" width="1" height="15" fill="#c0c0c0"/><rect x="175" y="609" width="1" height="14" fill="#c0c0c0"/><rect x="179" y="609" width="1" height="14" fill="#c0c0c0"/><rect x="183" y="609" width="1" height="13" fill="#c0c0c0"/><rect x="187" y="609" width="1" height="10" fill="#c0c0c0"/><rect x="191" y="609" width="1" height="7" fill="#c0c0c0"/><rect x="195" y="609" width="1" height="7" fill="#c0c0c0"/><rect x="199" y="609" width="1" height="8" fill="#c0c0c0"/><rect x="203" y="609" width="1" height="7" fill="#c0c0c0"/><rect x="207" y="609" width="1" height="11" fill="#c0c0c0"/><rect x="211" y="609" width="1" height="9" fill="#c0c0c0"/><rect x="215" y="609" width="1" height="8" fill="#c0c0c0"/><rect x="219" y="609" width="1" height="12" fill="#c0c0c0"/><rect x="223" y="609" width="1" height="15" fill="#c0c0c0"/><rect x="227" y="609" width="1" height="12" fill="#c0c0c0"/><rect x="231" y="609" width="1" height="14" fill="#c0c0c0"/><rect x="235" y="609" width="1" height="16" fill="#c0c0c0"/><rect x="239" y="609" width="1" height="19" fill="#c0c0c0"/><rect x="243" y="609" width="1" height="22" fill="#c0c0c0"/><rect x="247" y="609" width="1" height="24" fill="#c0c0c0"/><rect x="251" y="609" width="1" height="21" fill="#c0c0c0"/><rect x="255" y="609" width="1" height="19" fill="#c0c0c0"/><rect x="259" y="609" width="1" height="19" fill="#c0c0c0"/><rect x="263" y="609" width="1" height="18" fill="#c0c0c0"/><rect x="267" y="609" width="1" height="21" fill="#c0c0c0"/><rect x="271" y="609" width="1" height="23" fill="#c0c0c0"/><rect x="275" y="609" width="1" height="27" fill="#c0c0c0"/><rect x="279" y="609" width="1" height="25" fill="#c0c0c0"/><rect x="283" y="609" width="1" height="23" fill="#c0c0c0"/><rect x="287" y="609" width="1" height="21" fill="#c0c0c0"/><rect x="291" y="609" width="1" height="21" fill="#c0c0c0"/><rect x="295" y="609" width="1" height="17" fill="#c0c0c0"/><rect x="299" y="609" width="1" height="12" fill="#c0c0c0"/><rect x="303" y="609" width="1" height="6" fill="#c0c0c0"/><rect x="307" y="609" width="1" height="1" fill="#c0c0c0"/><rect x="311" y="605" width="1" height="5" fill="#c0c0c0"/><rect x="315" y="600" width="1" height="10" fill="#c0c0c0"/><rect x="319" y="597" width="1" height="13" fill="#c0c0c0"/><rect x="323" y="596" width="1" height="14" fill="#c0c0c0"/><rect x="327" y="595" width="1" height="15" fill="#c0c0c0"/><rect x="331" y="595" width="1" height="15" fill="#c0c0c0"/><rect x="335" y="596" width="1" height="14" fill="#c0c0c0"/><rect x="339" y="598" width="1" height="12" fill="#c0c0c0"/><rect x="343" y="597" width="1" height="13" fill="#c0c0c0"/><rect x="347" y="598" width="1" height="12" fill="#c0c0c0"/><rect x="351" y="598" width="1" height="12" fill="#c0c0c0"/><rect x="355" y="597" width="1" height="13" fill="#c0c0c0"/><rect x="359" y="597" width="1" height="13" fill="#c0c0c0"/><rect x="363" y="595" width="1" height="15" fill="#c0c0c0"/><rect x="367" y="593" width="1" height="17" fill="#c0c0c0"/><rect x="371" y="590" width="1" height="20" fill="#c0c0c0"/><rect x="375" y="588" width="1" height="22" fill="#c0c0c0"/><rect x="379" y="588" width="1" height="22" fill="#c0c0c0"/><rect x="383" y="589" width="1" height="21" fill="#c0c0c0"/><rect x="387" y="587" width="1" height="23" fill="#c0c0c0"/><rect x="391" y="584" width="1" height="26" fill="#c0c0c0"/><rect x="395" y="581" width="1" height="29" fill="#c0c0c0"/><rect x="399" y="581" width="1" height="29" fill="#c0c0c0"/><rect x="403" y="581" width="1" height="29" fill="#c0c0c0"/><rect x="407" y="582" width="1" height="28" fill="#c0c0c0"/><rect x="411" y="583" width="1" height="27" fill="#c0c0c0"/><rect x="415" y="587" width="1" height="23" fill="#c0c0c0"/><rect x="419" y="590" width="1" height="20" fill="#c0c0c0"/><rect x="423" y="592" width="1" height="18" fill="#c0c0c0"/><rect x="427" y="594" width="1" height="16" fill="#c0c0c0"/><rect x="431" y="596" width="1" height="14" fill="#c0c0c0"/><rect x="435" y="598" width="1" height="12" fill="#c0c0c0"/><rect x="439" y="600" width="1" height="10" fill="#c0c0c0"/><rect x="443" y="601" width="1" height="9" fill="#c0c0c0"/><rect x="447" y="603" width="1" height="7" fill="#c0c0c0"/><rect x="451" y="604" width="1" height="6" fill="#c0c0c0"/><rect x="455" y="606" width="1" height="4" fill="#c0c0c0"/><rect x="459" y="606" width="1" height="4" fill="#c0c0c0"/><rect x="463" y="604" width="1" height="6" fill="#c0c0c0"/><rect x="467" y="602" width="1" height="8" fill="#c0c0c0"/><rect x="471" y="597" width="1" height="13" fill="#c0c0c0"/><rect x="475" y="595" width="1" height="15" fill="#c0c0c0"/><rect x="479" y="594" width="1" height="16" fill="#c0c0c0"/><rect x="483" y="591" width="1" height="19" fill="#c0c0c0"/><rect x="487" y="591" width="1" height="19" fill="#c0c0c0"/><rect x="491" y="594" width="1" height="16" fill="#c0c0c0"/><rect x="495" y="596" width="1" height="14" fill="#c0c0c0"/><rect x="499" y="598" width="1" height="12" fill="#c0c0c0"/><rect x="503" y="600" width="1" height="10" fill="#c0c0c0"/><rect x="507" y="603" width="1" height="7" fill="#c0c0c0"/><rect x="511" y="606" width="1" height="4" fill="#c0c0c0"/><rect x="515" y="609" width="1" height="4" fill="#c0c0c0"/><rect x="519" y="609" width="1" height="9" fill="#c0c0c0"/><rect x="523" y="609" width="1" height="11" fill="#c0c0c0"/><rect x="527" y="609" width="1" height="13" fill="#c0c0c0"/><rect x="531" y="609" width="1" height="16" fill="#c0c0c0"/><rect x="535" y="609" width="1" height="17" fill="#c0c0c0"/><rect x="539" y="609" width="1" height="17" fill="#c0c0c0"/><rect x="543" y="609" width="1" height="16" fill="#c0c0c0"/><rect x="547" y="609" width="1" height="15" fill="#c0c0c0"/><rect x="551" y="609" width="1" height="14" fill="#c0c0c0"/><rect x="555" y="609" width="1" height="11" fill="#c0c0c0"/><rect x="559" y="609" width="1" height="10" fill="#c0c0c0"/><rect x="563" y="609" width="1" height="9" fill="#c0c0c0"/><rect x="567" y="609" width="1" height="6" fill="#c0c0c0"/><rect x="571" y="609" width="1" height="4" fill="#c0c0c0"/><rect x="575" y="609" width="1" height="3" fill="#c0c0c0"/><rect x="579" y="609" width="1" height="2" fill="#c0c0c0"/><rect x="583" y="609" width="1" height="1" fill="#c0c0c0"/><rect x="587" y="608" width="1" height="2" fill="#c0c0c0"/><rect x="591" y="606" width="1" height="4" fill="#c0c0c0"/><rect x="595" y="604" width="1" height="6" fill="#c0c0c0"/><rect x="599" y="603" width="1" height="7" fill="#c0c0c0"/><rect x="603" y="602" width="1" height="8" fill="#c0c0c0"/><rect x="607" y="598" width="1" height="12" fill="#c0c0c0"/><rect x="611" y="594" width="1" height="16" fill="#c0c0c0"/><rect x="615" y="589" width="1" height="21" fill="#c0c0c0"/><rect x="619" y="585" width="1" height="25" fill="#c0c0c0"/><rect x="623" y="582" width="1" height="28" fill="#c0c0c0"/><rect x="627" y="577" width="1" height="33" fill="#c0c0c0"/><rect x="631" y="573" width="1" height="37" fill="#c0c0c0"/><rect x="635" y="571" width="1" height="39" fill="#c0c0c0"/><rect x="639" y="570" width="1" height="40" fill="#c0c0c0"/><rect x="643" y="570" width="1" height="40" fill="#c0c0c0"/><rect x="647" y="570" width="1" height="40" fill="#c0c0c0"/><rect x="651" y="570" width="1" height="40" fill="#c0c0c0"/><rect x="655" y="573" width="1" height="37" fill="#c0c0c0"/><rect x="659" y="573" width="1" height="37" fill="#c0c0c0"/><rect x="663" y="575" width="1" height="35" fill="#c0c0c0"/><rect x="667" y="578" width="1" height="32" fill="#c0c0c0"/><rect x="671" y="580" width="1" height="30" fill="#c0c0c0"/><rect x="675" y="580" width="1" height="30" fill="#c0c0c0"/><rect x="679" y="581" width="1" height="29" fill="#c0c0c0"/><rect x="683" y="584" width="1" height="26" fill="#c0c0c0"/><rect x="687" y="589" width="1" height="21" fill="#c0c0c0"/><rect x="691" y="594" width="1" height="16" fill="#c0c0c0"/><rect x="695" y="601" width="1" height="9" fill="#c0c0c0"/><rect x="699" y="605" width="1" height="5" fill="#c0c0c0"/><rect x="703" y="608" width="1" height="2" fill="#c0c0c0"/><rect x="707" y="609" width="1" height="1" fill="#c0c0c0"/><rect x="711" y="609" width="1" height="1" fill="#c0c0c0"/><rect x="715" y="609" width="1" height="2" fill="#c0c0c0"/><rect x="719" y="609" width="1" height="3" fill="#c0c0c0"/><rect x="723" y="609" width="1" height="3" fill="#c0c0c0"/><rect x="727" y="609" width="1" height="5" fill="#c0c0c0"/><rect x="731" y="609" width="1" height="9" fill="#c0c0c0"/><rect x="735" y="609" width="1" height="13" fill="#c0c0c0"/><rect x="739" y="609" width="1" height="16" fill="#c0c0c0"/><rect x="743" y="609" width="1" height="16" fill="#c0c0c0"/><rect x="747" y="609" width="1" height="15" fill="#c0c0c0"/><rect x="751" y="609" width="1" height="13" fill="#c0c0c0"/><rect x="755" y="609" width="1" height="12" fill="#c0c0c0"/><rect x="759" y="609" width="1" height="15" fill="#c0c0c0"/><rect x="763" y="609" width="1" height="18" fill="#c0c0c0"/><rect x="767" y="609" width="1" height="24" fill="#c0c0c0"/><rect x="771" y="609" width="1" height="28" fill="#c0c0c0"/><rect x="775" y="609" width="1" height="30" fill="#c0c0c0"/><rect x="779" y="609" width="1" height="33" fill="#c0c0c0"/><rect x="783" y="609" width="1" height="38" fill="#c0c0c0"/><rect x="787" y="609" width="1" height="39" fill="#c0c0c0"/><rect x="791" y="609" width="1" height="40" fill="#c0c0c0"/><rect x="795" y="609" width="1" height="39" fill="#c0c0c0"/><rect x="799" y="609" width="1" height="36" fill="#c0c0c0"/><rect x="803" y="609" width="1" height="34" fill="#c0c0c0"/><rect x="807" y="609" width="1" height="28" fill="#c0c0c0"/><rect x="811" y="609" width="1" height="24" fill="#c0c0c0"/><rect x="815" y="609" width="1" height="21" fill="#c0c0c0"/><rect x="819" y="609" width="1" height="17" fill="#c0c0c0"/><rect x="823" y="609" width="1" height="18" fill="#c0c0c0"/><rect x="827" y="609" width="1" height="25" fill="#c0c0c0"/><rect x="831" y="609" width="1" height="33" fill="#c0c0c0"/><rect x="835" y="609" width="1" height="40" fill="#c0c0c0"/><rect x="839" y="609" width="1" height="46" fill="#c0c0c0"/><rect x="843" y="609" width="1" height="50" fill="#c0c0c0"/><rect x="847" y="609" width="1" height="50" fill="#c0c0c0"/><rect x="851" y="609" width="1" height="51" fill="#c0c0c0"/><rect x="855" y="609" width="1" height="51" fill="#c0c0c0"/><rect x="859" y="609" width="1" height="48" fill="#c0c0c0"/><rect x="863" y="609" width="1" height="41" fill="#c0c0c0"/><rect x="867" y="609" width="1" height="37" fill="#c0c0c0"/><rect x="871" y="609" width="1" height="32" fill="#c0c0c0"/><rect x="875" y="609" width="1" height="29" fill="#c0c0c0"/><rect x="879" y="609" width="1" height="22" fill="#c0c0c0"/><rect x="883" y="609" width="1" height="16" fill="#c0c0c0"/><rect x="887" y="609" width="1" height="10" fill="#c0c0c0"/><rect x="891" y="609" width="1" height="5" fill="#c0c0c0"/><rect x="895" y="609" width="1" height="5" fill="#c0c0c0"/><rect x="899" y="609" width="1" height="3" fill="#c0c0c0"/><rect x="903" y="609" width="1" height="5" fill="#c0c0c0"/><rect x="907" y="609" width="1" height="6" fill="#c0c0c0"/><rect x="911" y="609" width="1" height="8" fill="#c0c0c0"/><rect x="915" y="609" width="1" height="6" fill="#c0c0c0"/><rect x="919" y="609" width="1" height="6" fill="#c0c0c0"/><rect x="923" y="609" width="1" height="8" fill="#c0c0c0"/><rect x="927" y="609" width="1" height="10" fill="#c0c0c0"/><rect x="931" y="609" width="1" height="11" fill="#c0c0c0"/><rect x="935" y="609" width="1" height="11" fill="#c0c0c0"/><rect x="939" y="609" width="1" height="10" fill="#c0c0c0"/><rect x="943" y="609" width="1" height="9" fill="#c0c0c0"/><rect x="947" y="609" width="1" height="5" fill="#c0c0c0"/><rect x="951" y="609" width="1" height="1" fill="#c0c0c0"/><rect x="955" y="606" width="1" height="4" fill="#c0c0c0"/><rect x="959" y="604" width="1" height="6" fill="#c0c0c0"/><rect x="963" y="603" width="1" height="7" fill="#c0c0c0"/><rect x="967" y="601" width="1" height="9" fill="#c0c0c0"/><rect x="971" y="601" width="1" height="9" fill="#c0c0c0"/><rect x="975" y="606" width="1" height="4" fill="#c0c0c0"/><rect x="979" y="609" width="1" height="1" fill="#c0c0c0"/><rect x="983" y="609" width="1" height="10" fill="#c0c0c0"/><rect x="987" y="609" width="1" height="15" fill="#c0c0c0"/><rect x="991" y="609" width="1" height="19" fill="#c0c0c0"/><rect x="995" y="609" width="1" height="22" fill="#c0c0c0"/><rect x="999" y="609" width="1" height="26" fill="#c0c0c0"/><rect x="1003" y="609" width="1" height="28" fill="#c0c0c0"/><rect x="1007" y="609" width="1" height="32" fill="#c0c0c0"/><rect x="1011" y="609" width="1" height="30" fill="#c0c0c0"/><rect x="1015" y="609" width="1" height="30" fill="#c0c0c0"/><rect x="1019" y="609" width="1" height="27" fill="#c0c0c0"/><rect x="1023" y="609" width="1" height="24" fill="#c0c0c0"/><rect x="1027" y="609" width="1" height="21" fill="#c0c0c0"/><rect x="1031" y="609" width="1" height="17" fill="#c0c0c0"/><rect x="1035" y="609" width="1" height="15" fill="#c0c0c0"/><rect x="1039" y="609" width="1" height="12" fill="#c0c0c0"/><rect x="1043" y="609" width="1" height="8" fill="#c0c0c0"/><rect x="1047" y="609" width="1" height="10" fill="#c0c0c0"/><rect x="1051" y="609" width="1" height="13" fill="#c0c0c0"/><rect x="1055" y="609" width="1" height="11" fill="#c0c0c0"/><rect x="1059" y="609" width="1" height="8" fill="#c0c0c0"/><rect x="1063" y="609" width="1" height="6" fill="#c0c0c0"/><rect x="1067" y="609" width="1" height="1" fill="#c0c0c0"/><rect x="1071" y="604" width="1" height="6" fill="#c0c0c0"/><rect x="1075" y="600" width="1" height="10" fill="#c0c0c0"/><rect x="1079" y="596" width="1" height="14" fill="#c0c0c0"/><rect x="1083" y="595" width="1" height="15" fill="#c0c0c0"/><rect x="1087" y="599" width="1" height="11" fill="#c0c0c0"/><rect x="1091" y="598" width="1" height="12" fill="#c0c0c0"/><rect x="1095" y="597" width="1" height="13" fill="#c0c0c0"/><rect x="1099" y="596" width="1" height="14" fill="#c0c0c0"/><rect x="1103" y="593" width="1" height="17" fill="#c0c0c0"/><rect x="1107" y="591" width="1" height="19" fill="#c0c0c0"/><rect x="1111" y="588" width="1" height="22" fill="#c0c0c0"/><rect x="1115" y="589" width="1" height="21" fill="#c0c0c0"/><rect x="1119" y="589" width="1" height="21" fill="#c0c0c0"/><rect x="1123" y="592" width="1" height="18" fill="#c0c0c0"/><rect x="1127" y="590" width="1" height="20" fill="#c0c0c0"/><rect x="1131" y="590" width="1" height="20" fill="#c0c0c0"/><polyline points="7.5,573.3 11.5,573.4 15.5,573.4 19.5,573.6 23.5,573.8 27.5,574.0 31.5,574.0 35.5,573.8 39.5,573.6 43.5,573.2 47.5,572.9 51.5,572.9 55.5,573.0 59.5,573.2 63.5,573.5 67.5,574.2 71.5,575.2 75.5,575.9 79.5,576.8 83.5,577.6 87.5,578.4 91.5,579.5 95.5,580.8 99.5,583.0 103.5,585.8 107.5,588.9 111.5,592.7 115.5,596.3 119.5,599.9 123.5,603.4 127.5,606.2 131.5,608.9 135.5,610.8 139.5,612.0 143.5,612.6 147.5,612.8 151.5,613.0 155.5,613.1 159.5,613.5 163.5,614.3 167.5,615.1 171.5,616.1 175.5,617.3 179.5,618.5 183.5,619.5 187.5,620.3 191.5,620.7 195.5,620.8 199.5,620.6 203.5,620.0 207.5,619.6 211.5,619.1 215.5,618.4 219.5,618.3 223.5,618.9 227.5,619.4 231.5,620.2 235.5,621.0 239.5,622.3 243.5,623.5 247.5,625.1 251.5,626.5 255.5,627.3 259.5,627.8 263.5,628.5 267.5,629.3 271.5,630.0 275.5,631.0 279.5,631.4 283.5,631.2 287.5,631.2 291.5,631.4 295.5,631.2 299.5,630.5 303.5,628.8 307.5,626.3 311.5,622.7 315.5,619.0 319.5,615.1 323.5,611.3 327.5,607.5 331.5,604.1 335.5,601.4 339.5,599.5 343.5,598.1 347.5,597.4 351.5,597.1 355.5,597.2 359.5,597.3 363.5,597.4 367.5,597.2 371.5,596.5 375.5,595.4 379.5,594.4 383.5,593.4 387.5,592.2 391.5,590.7 395.5,588.9 399.5,587.3 403.5,586.0 407.5,585.1 411.5,584.5 415.5,584.3 419.5,584.4 423.5,584.9 427.5,586.0 431.5,587.7 435.5,589.6 439.5,591.7 443.5,593.7 447.5,596.0 451.5,598.0 455.5,599.7 459.5,601.4 463.5,602.5 467.5,603.1 471.5,603.0 475.5,602.6 479.5,601.8 483.5,600.5 487.5,599.0 491.5,597.7 495.5,596.6 499.5,595.9 503.5,595.7 507.5,596.3 511.5,597.5 515.5,599.6 519.5,602.6 523.5,605.8 527.5,609.0 531.5,612.2 535.5,615.2 539.5,618.1 543.5,620.6 547.5,622.6 551.5,623.8 555.5,624.1 559.5,623.9 563.5,623.4 567.5,622.3 571.5,621.0 575.5,619.4 579.5,617.8 583.5,616.3 587.5,614.6 591.5,612.9 595.5,611.3 599.5,609.7 603.5,608.2 607.5,606.5 611.5,604.6 615.5,602.1 619.5,599.3 623.5,596.3 627.5,593.1 631.5,589.6 635.5,586.0 639.5,582.5 643.5,579.3 647.5,576.5 651.5,574.5 655.5,573.2 659.5,572.3 663.5,572.1 667.5,572.7 671.5,573.7 675.5,574.9 679.5,576.1 683.5,577.8 687.5,579.8 691.5,582.2 695.5,585.3 699.5,588.6 703.5,591.9 707.5,595.2 711.5,598.5 715.5,601.8 719.5,605.0 723.5,607.6 727.5,609.7 731.5,611.5 735.5,613.4 739.5,615.3 743.5,617.0 747.5,618.6 751.5,619.9 755.5,620.8 759.5,622.1 763.5,623.6 767.5,625.3 771.5,627.0 775.5,628.6 779.5,630.5 783.5,633.0 787.5,635.9 791.5,639.0 795.5,641.6 799.5,643.6 803.5,644.7 807.5,644.7 811.5,644.0 815.5,642.7 819.5,640.3 823.5,637.9 827.5,636.3 831.5,635.6 835.5,636.1 839.5,637.5 843.5,639.8 847.5,642.7 851.5,646.0 855.5,649.8 859.5,653.1 863.5,654.9 867.5,655.3 871.5,654.5 875.5,652.5 879.5,649.4 883.5,645.6 887.5,641.1 891.5,636.0 895.5,631.2 899.5,627.0 903.5,623.4 907.5,620.6 911.5,618.2 915.5,616.6 919.5,615.5 923.5,615.3 927.5,615.9 931.5,616.5 935.5,617.5 939.5,618.1 943.5,618.4 947.5,618.1 951.5,617.5 955.5,616.3 959.5,614.8 963.5,613.1 967.5,611.0 971.5,608.9 975.5,607.4 979.5,606.5 983.5,607.0 987.5,608.7 991.5,611.2 995.5,614.2 999.5,617.7 1003.5,621.8 1007.5,626.2 1011.5,629.8 1015.5,633.0 1019.5,634.9 1023.5,635.9 1027.5,636.2 1031.5,635.6 1035.5,634.4 1039.5,632.6 1043.5,630.0 1047.5,627.8 1051.5,625.9 1055.5,624.0 1059.5,622.2 1063.5,620.5 1067.5,618.8 1071.5,616.5 1075.5,614.1 1079.5,611.8 1083.5,609.2 1087.5,606.6 1091.5,604.2 1095.5,602.0 1099.5,599.8 1103.5,597.9 1107.5,596.5 1111.5,595.2 1115.5,594.4 1119.5,593.6 1123.5,592.9 1127.5,592.0 1131.5,591.3" fill="none" stroke="#ff0000" stroke-width="1" shape-rendering="crispEdges" stroke-dasharray="3,3" stroke-dashoffset="1"/><text x="11" y="575" font-size="10" fill="#000" text-anchor="start" textLength="148" lengthAdjust="spacingAndGlyphs" stroke="#000" stroke-width="0.12">MACD(12,26,9) 0.002645 0.002556</text><rect x="1423" y="564" width="2" height="1" fill="#000"/><text x="1426" y="573" font-size="10" fill="#000" text-anchor="start" textLength="37" lengthAdjust="spacingAndGlyphs" stroke="#000" stroke-width="0.12">0.006286</text><rect x="1423" y="609" width="2" height="1" fill="#000"/><text x="1426" y="613" font-size="10" fill="#000" text-anchor="start" textLength="17.5" lengthAdjust="spacingAndGlyphs" stroke="#000" stroke-width="0.12">0.00</text><text x="1426" y="663" font-size="10" fill="#000" text-anchor="start" textLength="35.5" lengthAdjust="spacingAndGlyphs" stroke="#000" stroke-width="0.12">-0.00762</text><line x1="8" y1="707.5" x2="1422" y2="707.5" stroke="#c0c0c0" stroke-width="1" stroke-dasharray="3,3" shape-rendering="crispEdges"/><line x1="8" y1="758.5" x2="1422" y2="758.5" stroke="#c0c0c0" stroke-width="1" stroke-dasharray="3,3" shape-rendering="crispEdges"/><polyline points="7.5,715.3 11.5,711.7 15.5,707.3 19.5,716.0 23.5,714.9 27.5,708.5 31.5,704.0 35.5,700.9 39.5,717.7 43.5,713.7 47.5,719.4 51.5,716.7 55.5,723.4 59.5,722.6 63.5,716.5 67.5,717.1 71.5,716.4 75.5,710.3 79.5,721.3 83.5,720.5 87.5,719.5 91.5,734.9 95.5,735.6 99.5,745.4 103.5,742.4 107.5,743.3 111.5,742.0 115.5,735.9 119.5,736.1 123.5,734.0 127.5,733.4 131.5,744.1 135.5,737.7 139.5,730.0 143.5,732.5 147.5,734.1 151.5,734.8 155.5,735.6 159.5,743.9 163.5,750.9 167.5,749.0 171.5,749.5 175.5,740.6 179.5,740.8 183.5,737.6 187.5,727.5 191.5,728.5 195.5,737.9 199.5,740.4 203.5,735.5 207.5,749.2 211.5,732.7 215.5,734.7 219.5,746.0 223.5,745.3 227.5,731.8 231.5,741.5 235.5,743.3 239.5,745.7 243.5,748.7 247.5,746.5 251.5,734.7 255.5,737.4 259.5,738.8 263.5,739.5 267.5,748.0 271.5,745.1 275.5,753.1 279.5,736.8 283.5,736.3 287.5,736.8 291.5,740.6 295.5,731.6 299.5,728.0 303.5,723.5 307.5,722.0 311.5,721.7 315.5,719.3 319.5,720.0 323.5,725.2 327.5,723.7 331.5,728.7 335.5,729.1 339.5,731.0 343.5,725.6 347.5,728.7 351.5,727.1 355.5,724.9 359.5,724.4 363.5,719.7 367.5,716.7 371.5,712.6 375.5,712.3 379.5,719.8 383.5,721.4 387.5,713.2 391.5,710.1 395.5,706.3 399.5,717.7 403.5,717.9 407.5,717.6 411.5,719.0 415.5,730.8 419.5,730.8 423.5,728.1 427.5,731.6 431.5,731.9 435.5,730.9 439.5,732.7 443.5,729.8 447.5,740.0 451.5,732.5 455.5,735.1 459.5,733.7 463.5,720.3 467.5,721.2 471.5,709.2 475.5,719.8 479.5,718.4 483.5,714.5 487.5,722.2 491.5,732.1 495.5,731.3 499.5,734.1 503.5,733.8 507.5,736.8 511.5,742.1 515.5,755.0 519.5,752.4 523.5,746.1 527.5,746.8 531.5,749.7 535.5,746.1 539.5,743.2 543.5,742.2 547.5,738.8 551.5,740.8 555.5,729.8 559.5,733.2 563.5,735.2 567.5,728.3 571.5,728.6 575.5,728.1 579.5,731.7 583.5,729.7 587.5,722.4 591.5,721.2 595.5,721.2 599.5,722.8 603.5,718.7 607.5,709.9 611.5,704.5 615.5,698.4 619.5,701.7 623.5,700.3 627.5,694.9 631.5,694.7 635.5,696.3 639.5,700.4 643.5,699.8 647.5,699.6 651.5,702.1 655.5,710.3 659.5,706.1 663.5,713.2 667.5,718.7 671.5,716.4 675.5,711.2 679.5,709.8 683.5,728.1 687.5,736.3 691.5,741.4 695.5,751.0 699.5,741.5 703.5,742.8 707.5,737.8 711.5,735.1 715.5,736.1 719.5,741.4 723.5,734.7 727.5,739.3 731.5,750.5 735.5,752.7 739.5,751.0 743.5,745.3 747.5,737.4 751.5,734.4 755.5,737.6 759.5,749.2 763.5,750.8 767.5,759.6 771.5,759.7 775.5,755.5 779.5,758.7 783.5,763.7 787.5,755.1 791.5,756.0 795.5,748.3 799.5,742.7 803.5,744.7 807.5,733.6 811.5,733.8 815.5,734.3 819.5,729.8 823.5,744.0 827.5,757.3 831.5,760.8 835.5,761.8 839.5,764.5 843.5,758.6 847.5,753.2 851.5,755.0 855.5,755.4 859.5,746.6 863.5,734.0 867.5,739.1 871.5,735.7 875.5,737.1 879.5,726.9 883.5,727.7 887.5,724.1 891.5,724.9 895.5,733.8 899.5,730.1 903.5,739.1 907.5,739.3 911.5,738.8 915.5,733.0 919.5,736.3 923.5,741.0 927.5,741.2 931.5,740.4 935.5,740.9 939.5,735.1 943.5,736.4 947.5,724.6 951.5,719.9 955.5,721.4 959.5,725.3 963.5,728.8 967.5,721.9 971.5,730.5 975.5,742.7 979.5,742.1 983.5,755.9 987.5,746.8 991.5,747.6 995.5,748.7 999.5,750.7 1003.5,751.6 1007.5,754.2 1011.5,740.7 1015.5,744.3 1019.5,739.0 1023.5,736.0 1027.5,734.3 1031.5,731.0 1035.5,736.5 1039.5,729.8 1043.5,727.4 1047.5,741.2 1051.5,742.9 1055.5,733.6 1059.5,730.3 1063.5,730.2 1067.5,724.1 1071.5,718.5 1075.5,720.7 1079.5,719.3 1083.5,726.3 1087.5,735.3 1091.5,727.9 1095.5,725.9 1099.5,725.1 1103.5,720.0 1107.5,721.7 1111.5,718.8 1115.5,725.0 1119.5,724.1 1123.5,731.9 1127.5,723.1 1131.5,724.5" fill="none" stroke="#1e90ff" stroke-width="1" shape-rendering="crispEdges"/><text x="11" y="680" font-size="10" fill="#000" text-anchor="start" textLength="68" lengthAdjust="spacingAndGlyphs" stroke="#000" stroke-width="0.12">RSI(14) 56.7397</text><rect x="1423" y="669" width="2" height="1" fill="#000"/><text x="1426" y="678" font-size="10" fill="#000" text-anchor="start" textLength="14.5" lengthAdjust="spacingAndGlyphs" stroke="#000" stroke-width="0.12">100</text><text x="1425.5" y="711" font-size="10" fill="#000" text-anchor="start" textLength="9.5" lengthAdjust="spacingAndGlyphs" stroke="#000" stroke-width="0.12">70</text><text x="1425.5" y="762" font-size="10" fill="#000" text-anchor="start" textLength="9.5" lengthAdjust="spacingAndGlyphs" stroke="#000" stroke-width="0.12">30</text><text x="1426" y="794" font-size="10" fill="#000" text-anchor="start" textLength="5" lengthAdjust="spacingAndGlyphs" stroke="#000" stroke-width="0.12">0</text><rect x="7" y="798" width="1" height="3" fill="#000"/><text x="6" y="810" font-size="10" fill="#000" text-anchor="start" textLength="51" lengthAdjust="spacingAndGlyphs" stroke="#000" stroke-width="0.12">23 Oct 2018</text><rect x="71" y="798" width="1" height="3" fill="#000"/><text x="70" y="810" font-size="10" fill="#000" text-anchor="start" textLength="53" lengthAdjust="spacingAndGlyphs" stroke="#000" stroke-width="0.12">11 Nov 2018</text><rect x="135" y="798" width="1" height="3" fill="#000"/><text x="134" y="810" font-size="10" fill="#000" text-anchor="start" textLength="54" lengthAdjust="spacingAndGlyphs" stroke="#000" stroke-width="0.12">29 Nov 2018</text><rect x="199" y="798" width="1" height="3" fill="#000"/><text x="198.5" y="810" font-size="10" fill="#000" text-anchor="start" textLength="51.5" lengthAdjust="spacingAndGlyphs" stroke="#000" stroke-width="0.12">18 Dec 2018</text><rect x="263" y="798" width="1" height="3" fill="#000"/><text x="262.4" y="810" font-size="10" fill="#000" text-anchor="start" textLength="44.6" lengthAdjust="spacingAndGlyphs" stroke="#000" stroke-width="0.12">6 Jan 2019</text><rect x="327" y="798" width="1" height="3" fill="#000"/><text x="326.8" y="810" font-size="10" fill="#000" text-anchor="start" textLength="49.2" lengthAdjust="spacingAndGlyphs" stroke="#000" stroke-width="0.12">24 Jan 2019</text><rect x="391" y="798" width="1" height="3" fill="#000"/><text x="390.7" y="810" font-size="10" fill="#000" text-anchor="start" textLength="51.3" lengthAdjust="spacingAndGlyphs" stroke="#000" stroke-width="0.12">12 Feb 2019</text><rect x="455" y="798" width="1" height="3" fill="#000"/><text x="454.6" y="810" font-size="10" fill="#000" text-anchor="start" textLength="46.4" lengthAdjust="spacingAndGlyphs" stroke="#000" stroke-width="0.12">3 Mar 2019</text><rect x="519" y="798" width="1" height="3" fill="#000"/><text x="519" y="810" font-size="10" fill="#000" text-anchor="start" textLength="51" lengthAdjust="spacingAndGlyphs" stroke="#000" stroke-width="0.12">21 Mar 2019</text><rect x="583" y="798" width="1" height="3" fill="#000"/><text x="581.8" y="810" font-size="10" fill="#000" text-anchor="start" textLength="46.2" lengthAdjust="spacingAndGlyphs" stroke="#000" stroke-width="0.12">9 Apr 2019</text><rect x="647" y="798" width="1" height="3" fill="#000"/><text x="646" y="810" font-size="10" fill="#000" text-anchor="start" textLength="51" lengthAdjust="spacingAndGlyphs" stroke="#000" stroke-width="0.12">29 Apr 2019</text><rect x="711" y="798" width="1" height="3" fill="#000"/><text x="710" y="810" font-size="10" fill="#000" text-anchor="start" textLength="55" lengthAdjust="spacingAndGlyphs" stroke="#000" stroke-width="0.12">17 May 2019</text><rect x="775" y="798" width="1" height="3" fill="#000"/><text x="774.4" y="810" font-size="10" fill="#000" text-anchor="start" textLength="44.2" lengthAdjust="spacingAndGlyphs" stroke="#000" stroke-width="0.12">5 Jun 2019</text><rect x="839" y="798" width="1" height="3" fill="#000"/><text x="838" y="810" font-size="10" fill="#000" text-anchor="start" textLength="50" lengthAdjust="spacingAndGlyphs" stroke="#000" stroke-width="0.12">24 Jun 2019</text><rect x="903" y="798" width="1" height="3" fill="#000"/><text x="902.7" y="810" font-size="10" fill="#000" text-anchor="start" textLength="46.1" lengthAdjust="spacingAndGlyphs" stroke="#000" stroke-width="0.12">12 Jul 2019</text><rect x="967" y="798" width="1" height="3" fill="#000"/><text x="966.6" y="810" font-size="10" fill="#000" text-anchor="start" textLength="46.2" lengthAdjust="spacingAndGlyphs" stroke="#000" stroke-width="0.12">31 Jul 2019</text><rect x="1031" y="798" width="1" height="3" fill="#000"/><text x="1031" y="810" font-size="10" fill="#000" text-anchor="start" textLength="52" lengthAdjust="spacingAndGlyphs" stroke="#000" stroke-width="0.12">19 Aug 2019</text><rect x="1095" y="798" width="1" height="3" fill="#000"/><text x="1094" y="810" font-size="10" fill="#000" text-anchor="start" textLength="47" lengthAdjust="spacingAndGlyphs" stroke="#000" stroke-width="0.12">6 Sep 2019</text><rect x="4" y="818" width="1464" height="1" fill="#e0e0e0"/><rect x="3" y="820" width="1467" height="1" fill="#000"/><rect x="3" y="821" width="1467" height="14" fill="#f0f0f0"/><rect x="224" y="819" width="108" height="16" fill="#ffffff"/><rect x="224" y="820" width="1" height="15" fill="#000"/><rect x="331" y="820" width="1" height="15" fill="#000"/><rect x="225" y="820" width="106" height="1" fill="#ffffff"/><rect x="116" y="823" width="1" height="12" fill="#808080"/><rect x="440" y="823" width="1" height="12" fill="#808080"/><rect x="552" y="823" width="1" height="12" fill="#808080"/><rect x="672" y="823" width="1" height="12" fill="#808080"/><rect x="780" y="823" width="1" height="12" fill="#808080"/><rect x="876" y="823" width="1" height="12" fill="#808080"/><rect x="956" y="823" width="1" height="12" fill="#808080"/><rect x="1060" y="823" width="1" height="12" fill="#808080"/><rect x="1181" y="823" width="1" height="12" fill="#808080"/><text x="19.0" y="835" font-size="12" fill="#808080" text-anchor="start">EURUSD-,Daily</text><text x="125.5" y="835" font-size="12" fill="#808080" text-anchor="start">AUDUSD-,Daily</text><text x="236.0" y="835" font-size="12" fill="#000" text-anchor="start">USDCHF-,Daily</text><text x="342.5" y="835" font-size="12" fill="#808080" text-anchor="start">USDCAD-,Daily</text><text x="451.5" y="835" font-size="12" fill="#808080" text-anchor="start">USDCNH-,Daily</text><text x="562.5" y="835" font-size="12" fill="#808080" text-anchor="start">EURCHF-,Weekly</text><text x="682.0" y="835" font-size="12" fill="#808080" text-anchor="start">XAUUSD-,Daily</text><text x="790.5" y="835" font-size="12" fill="#808080" text-anchor="start">GBPUSD-,H1</text><text x="886.5" y="835" font-size="12" fill="#808080" text-anchor="start">UKOil-,H1</text><text x="965.5" y="835" font-size="12" fill="#808080" text-anchor="start">USDX-,Weekly</text><text x="1070.9" y="835" font-size="12" fill="#808080" text-anchor="start">EURCHF-,Weekly</text><polygon points="1441.5,825.5 1441.5,832.5 1438,829" fill="#909090"/><polygon points="1457,825.5 1457,832.5 1460.5,829" fill="#909090"/><text x="10" y="9" font-size="9.6" fill="#505050" text-anchor="start" textLength="12" lengthAdjust="spacingAndGlyphs">H4</text><text x="38.8" y="9" font-size="9.6" fill="#505050" text-anchor="start" textLength="11" lengthAdjust="spacingAndGlyphs">D1</text><text x="66" y="9" font-size="9.6" fill="#505050" text-anchor="start" textLength="14" lengthAdjust="spacingAndGlyphs">W1</text><text x="92.5" y="9" font-size="9.6" fill="#505050" text-anchor="start" textLength="14" lengthAdjust="spacingAndGlyphs">MN</text></svg></body></html>
